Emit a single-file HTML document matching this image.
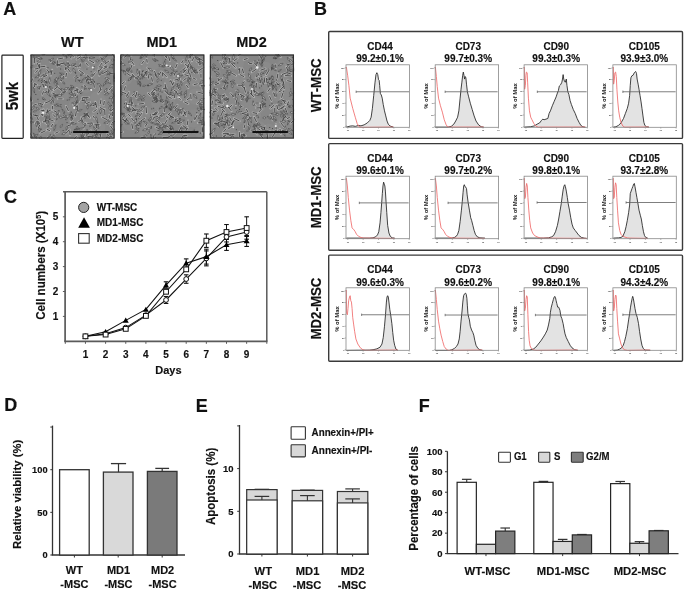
<!DOCTYPE html>
<html><head><meta charset="utf-8"><style>
html,body{margin:0;padding:0;background:#fff;overflow:hidden}
svg{display:block;will-change:transform}
text{font-family:"Liberation Sans",sans-serif;font-weight:bold}
</style></head><body>
<svg width="685" height="590" viewBox="0 0 685 590">
<rect width="685" height="590" fill="#fff"/>
<text transform="translate(3.20,14.70) scale(1,1.045)" font-size="18" text-anchor="start" fill="#111" stroke="#111" stroke-width="0.15" >A</text>
<rect x="1.90" y="55.10" width="21.30" height="83.20" fill="#fff" stroke="#222" stroke-width="1.2" rx="0.8"/>
<text transform="translate(17.80,96.20) rotate(-90) scale(1,1.045)" font-size="15" text-anchor="middle" fill="#111" stroke="#111" stroke-width="0.15" >5wk</text>
<text transform="translate(72.30,46.90) scale(1,1.045)" font-size="14.5" text-anchor="middle" fill="#111" stroke="#111" stroke-width="0.15" >WT</text>
<text transform="translate(161.80,46.90) scale(1,1.045)" font-size="14.5" text-anchor="middle" fill="#111" stroke="#111" stroke-width="0.15" >MD1</text>
<text transform="translate(251.50,46.90) scale(1,1.045)" font-size="14.5" text-anchor="middle" fill="#111" stroke="#111" stroke-width="0.15" >MD2</text>
<clipPath id="cp1"><rect x="30.3" y="54.3" width="84.5" height="84.5"/></clipPath><g clip-path="url(#cp1)">
<rect x="30.3" y="54.3" width="84.5" height="84.5" fill="#868686"/>
<g fill="#949494" opacity="0.3"><circle cx="43.8" cy="123.8" r="7.8"/><circle cx="53.3" cy="96.2" r="6.2"/><circle cx="84.5" cy="119.2" r="4.5"/><circle cx="35.5" cy="122.9" r="6.2"/><circle cx="93.1" cy="57.5" r="6.2"/><circle cx="89.9" cy="75.3" r="8.7"/><circle cx="104.1" cy="59.7" r="4.1"/><circle cx="75.8" cy="131.0" r="5.9"/><circle cx="50.3" cy="90.4" r="4.1"/><circle cx="50.7" cy="91.7" r="6.5"/><circle cx="51.6" cy="75.4" r="5.1"/><circle cx="69.4" cy="80.0" r="4.1"/><circle cx="99.0" cy="101.0" r="7.2"/><circle cx="47.9" cy="135.2" r="8.3"/><circle cx="42.8" cy="83.4" r="7.6"/><circle cx="89.1" cy="130.8" r="6.1"/><circle cx="98.5" cy="109.9" r="5.5"/><circle cx="79.4" cy="126.6" r="8.2"/><circle cx="73.0" cy="103.5" r="4.2"/><circle cx="52.4" cy="119.9" r="6.1"/><circle cx="46.9" cy="100.4" r="7.5"/><circle cx="86.2" cy="86.7" r="6.2"/><circle cx="73.2" cy="118.4" r="6.6"/><circle cx="64.2" cy="95.7" r="4.1"/><circle cx="36.7" cy="112.5" r="8.9"/><circle cx="79.9" cy="88.2" r="4.9"/><circle cx="72.7" cy="134.4" r="7.9"/><circle cx="75.7" cy="124.8" r="5.2"/><circle cx="73.6" cy="132.1" r="6.9"/><circle cx="69.3" cy="78.4" r="6.7"/><circle cx="108.4" cy="57.7" r="7.9"/><circle cx="97.7" cy="126.9" r="7.7"/><circle cx="96.8" cy="98.0" r="6.8"/><circle cx="66.7" cy="61.7" r="8.4"/><circle cx="78.0" cy="73.0" r="6.5"/><circle cx="71.4" cy="85.3" r="5.7"/><circle cx="75.6" cy="106.2" r="7.1"/><circle cx="69.3" cy="59.5" r="5.1"/><circle cx="47.2" cy="103.2" r="8.3"/><circle cx="96.0" cy="119.9" r="8.1"/></g>
<path d="M52.7 124.0l-1.7 2.8M69.6 54.2l1.6 4.2M50.9 135.3l-3.9 2.9M110.4 125.8l3.4 4.9M109.2 115.3l1.0 3.7M112.6 111.6l-0.1 4.3M47.3 109.5l0.8 3.6M50.1 81.9l-5.7 0.2M51.0 109.8l-5.5 3.1M104.7 109.1l0.3 6.4M88.9 59.9l5.3 3.1M96.3 104.0l-3.8 2.1M81.3 118.1l1.9 4.6M94.1 124.1l5.3 0.2M105.5 77.5l3.3 3.3M82.2 57.5l6.4 0.2M51.1 98.5l2.2 3.2M76.9 101.4l-1.1 3.7M51.2 58.8l-0.5 3.2M57.5 60.2l-0.3 6.2M107.3 65.8l-3.0 0.9M68.5 65.6l-3.3 4.2M34.0 83.6l3.1 1.4M99.6 85.5l1.6 4.9M30.9 96.3l-0.0 5.3M86.6 114.5l3.5 3.2M34.5 57.3l-0.2 6.1M52.1 69.9l-1.2 5.5M86.8 112.8l2.2 4.3M107.4 133.7l2.1 5.4M58.2 98.9l4.5 0.0M58.1 86.4l-4.2 3.4M83.8 85.3l2.4 1.8M66.9 117.1l-4.1 0.2M82.0 97.8l1.3 2.7M79.0 70.1l4.8 3.7M46.8 120.2l-3.8 1.7M69.5 129.5l-3.4 3.9M72.3 64.9l5.0 2.3M95.5 72.5l-3.5 4.3M39.2 86.2l0.1 3.3M36.7 104.1l-3.5 1.3M92.3 122.9l-5.1 0.6M102.0 62.9l-1.9 2.7M101.9 117.0l5.5 2.9M40.4 110.1l4.3 0.8M70.9 124.8l-3.0 0.9M100.2 56.6l2.2 2.6M84.5 134.5l-1.7 3.5M57.7 87.4l4.9 3.6M45.7 130.6l-5.4 2.6M36.4 121.5l3.0 0.8M66.6 73.0l-0.7 4.1M43.7 83.9l-0.2 3.3M81.1 56.5l-4.4 2.9M43.4 109.3l-1.2 6.1M52.5 106.1l-0.3 3.3M99.6 107.1l5.1 3.1M67.4 68.1l3.2 4.4M85.8 136.5l-3.4 3.7M67.9 62.1l2.0 4.0M47.1 75.2l-4.6 2.2M110.0 73.5l3.9 0.3M112.7 85.8l-3.8 4.5M82.4 136.0l-0.8 4.8M107.9 135.4l4.7 1.6M85.7 62.9l2.7 2.9M99.4 125.1l-4.2 3.3M73.3 104.8l4.0 2.0M87.4 75.5l3.4 2.7M56.4 64.3l3.5 1.7M76.4 111.1l-1.1 5.3M49.2 101.5l-4.2 1.6M32.6 78.6l-1.2 3.1M44.1 73.7l-4.0 3.6M34.9 114.9l3.9 1.3M85.5 122.7l-2.0 5.7M81.4 100.3l4.7 0.8M48.7 89.1l-0.6 3.8M74.6 92.7l1.0 3.2M53.6 110.5l5.5 2.9M107.2 71.2l-5.2 2.8M107.3 66.8l-3.9 2.0M95.4 101.8l1.5 6.1M39.7 64.0l-0.1 4.2M87.3 136.5l6.1 0.4M101.8 67.8l-2.1 2.6M114.1 108.3l-3.6 2.9M73.1 118.2l-2.4 2.8M79.0 101.9l-5.8 1.4M60.5 63.4l3.2 0.3M96.6 109.5l-3.2 2.4M114.0 123.8l-3.0 0.5M86.2 115.8l-4.7 1.3M48.8 119.2l4.9 1.9M77.4 105.3l0.4 6.4M30.2 133.4l2.2 3.3M64.9 66.4l1.4 4.1M90.3 81.9l3.5 1.7M52.3 93.0l3.1 1.6M47.1 120.2l-0.4 3.7M104.3 101.0l-0.7 4.3M80.4 63.6l-0.4 3.2M64.1 75.6l-3.1 5.6M39.8 124.7l-1.6 3.5M40.6 113.7l2.1 2.2M108.4 92.1l-3.1 1.8M116.5 120.4l-4.6 2.5M80.8 54.9l-4.0 1.3M70.8 122.8l3.6 0.0M46.9 129.3l3.0 1.5M38.6 68.3l-3.9 0.8M52.9 114.3l2.5 2.7M58.5 131.8l-3.1 1.5M39.5 103.1l3.6 1.5M35.0 123.1l4.8 0.5M90.3 78.9l-4.4 0.9M101.0 99.6l-0.7 4.7M89.9 102.0l-4.1 2.0M90.9 130.4l-3.0 4.2M66.0 106.0l2.5 5.2M92.9 115.8l1.7 2.5M81.8 120.1l-3.4 1.5M60.6 76.8l1.2 4.7M74.6 77.6l4.1 0.1M30.3 98.4l1.5 2.7M46.7 69.2l3.0 3.9M109.3 60.7l-4.9 3.6M98.7 66.7l4.0 0.5M82.2 90.1l-4.2 3.2M50.5 88.9l2.2 2.2M93.8 83.5l0.6 4.2M43.6 91.4l-1.4 3.2M76.7 136.2l-2.4 2.8M60.7 64.2l-3.1 0.5M63.4 58.0l-5.4 1.0M37.3 62.9l2.4 5.6M37.8 70.5l-2.5 2.3M112.3 53.9l2.6 3.9M35.0 83.6l-0.6 3.4M43.9 79.5l3.3 4.9M66.5 90.7l-5.5 3.2M108.3 119.2l-0.9 4.6M101.2 89.1l-3.0 4.4M37.0 116.7l1.5 3.2M101.4 131.8l-1.3 6.3M69.5 53.0l4.5 4.1M88.8 97.2l-6.5 0.3M76.8 88.0l0.6 4.9M83.1 132.3l-1.6 5.5M45.1 54.7l-3.4 0.2M32.8 114.7l4.2 1.3M47.1 91.5l-2.8 1.4M46.1 117.0l-1.0 5.7M69.6 130.6l0.5 4.7M78.6 89.4l-5.3 1.9M45.4 66.4l-5.1 0.5M98.4 69.6l0.9 6.0M37.1 57.8l3.8 2.0" stroke="#afafaf" stroke-width="2.1" stroke-linecap="round" fill="none"/>
<path d="M52.6 124.3l-1.4 2.3M69.7 54.6l1.2 3.4M50.5 135.6l-3.1 2.3M110.7 126.3l2.7 3.9M109.3 115.7l0.8 3.0M112.6 112.1l-0.1 3.5M47.4 109.8l0.6 2.9M49.6 81.9l-4.6 0.2M50.5 110.1l-4.4 2.4M104.7 109.8l0.3 5.2M89.5 60.2l4.3 2.5M96.0 104.2l-3.0 1.6M81.5 118.5l1.5 3.7M94.7 124.2l4.3 0.2M105.8 77.8l2.6 2.7M82.8 57.6l5.1 0.2M51.3 98.8l1.8 2.5M76.7 101.8l-0.9 2.9M51.1 59.1l-0.4 2.6M57.4 60.8l-0.2 5.0M107.0 65.9l-2.4 0.7M68.2 66.0l-2.7 3.3M34.3 83.7l2.5 1.2M99.7 86.0l1.3 3.9M30.9 96.9l-0.0 4.2M86.9 114.8l2.8 2.6M34.5 57.9l-0.2 4.9M52.0 70.5l-1.0 4.4M87.0 113.2l1.8 3.4M107.6 134.2l1.7 4.3M58.6 98.9l3.6 0.0M57.7 86.7l-3.4 2.7M84.1 85.5l1.9 1.4M66.5 117.2l-3.3 0.1M82.2 98.1l1.0 2.2M79.5 70.5l3.9 3.0M46.4 120.4l-3.0 1.4M69.1 129.9l-2.7 3.1M72.8 65.1l4.0 1.9M95.2 72.9l-2.8 3.4M39.3 86.5l0.1 2.7M36.4 104.3l-2.8 1.0M91.8 122.9l-4.1 0.5M101.9 63.2l-1.5 2.2M102.5 117.3l4.4 2.3M40.9 110.2l3.4 0.6M70.6 124.9l-2.4 0.7M100.4 56.9l1.8 2.1M84.3 134.8l-1.3 2.8M58.2 87.7l3.9 2.9M45.2 130.9l-4.3 2.1M36.7 121.6l2.4 0.7M66.5 73.4l-0.6 3.3M43.7 84.3l-0.2 2.7M80.6 56.8l-3.5 2.3M43.3 110.0l-1.0 4.8M52.5 106.4l-0.2 2.6M100.1 107.4l4.1 2.5M67.8 68.6l2.6 3.5M85.4 136.9l-2.7 2.9M68.1 62.5l1.6 3.2M46.7 75.4l-3.7 1.7M110.4 73.5l3.1 0.3M112.3 86.2l-3.1 3.6M82.3 136.5l-0.6 3.8M108.4 135.6l3.7 1.3M86.0 63.1l2.1 2.4M99.0 125.5l-3.4 2.7M73.7 105.0l3.2 1.6M87.7 75.8l2.7 2.1M56.8 64.4l2.8 1.3M76.3 111.6l-0.8 4.2M48.8 101.6l-3.3 1.3M32.5 78.9l-0.9 2.5M43.7 74.1l-3.2 2.8M35.3 115.0l3.1 1.0M85.3 123.3l-1.6 4.6M81.9 100.4l3.8 0.6M48.7 89.5l-0.4 3.1M74.7 93.0l0.8 2.6M54.1 110.8l4.4 2.3M106.7 71.4l-4.2 2.3M106.9 67.0l-3.1 1.6M95.5 102.4l1.2 4.9M39.7 64.4l-0.1 3.4M87.9 136.5l4.9 0.3M101.6 68.0l-1.7 2.1M113.7 108.6l-2.9 2.3M72.9 118.5l-1.9 2.2M78.4 102.0l-4.6 1.1M60.8 63.4l2.6 0.2M96.3 109.7l-2.6 1.9M113.7 123.9l-2.4 0.4M85.7 116.0l-3.8 1.1M49.3 119.4l3.9 1.5M77.4 105.9l0.3 5.1M30.4 133.7l1.8 2.6M65.0 66.8l1.1 3.3M90.7 82.0l2.8 1.3M52.7 93.2l2.5 1.2M47.1 120.6l-0.3 2.9M104.3 101.4l-0.6 3.4M80.4 63.9l-0.3 2.6M63.8 76.2l-2.5 4.5M39.7 125.1l-1.3 2.8M40.8 114.0l1.7 1.7M108.1 92.3l-2.5 1.4M116.1 120.6l-3.7 2.0M80.4 55.0l-3.2 1.0M71.1 122.8l2.8 0.0M47.2 129.4l2.4 1.2M38.2 68.4l-3.1 0.6M53.2 114.6l2.0 2.2M58.2 131.9l-2.5 1.2M39.8 103.3l2.9 1.2M35.5 123.1l3.9 0.4M89.9 79.0l-3.5 0.8M100.9 100.0l-0.6 3.8M89.5 102.2l-3.3 1.6M90.6 130.8l-2.4 3.4M66.3 106.5l2.0 4.1M93.1 116.0l1.4 2.0M81.5 120.2l-2.7 1.2M60.7 77.2l1.0 3.8M75.0 77.6l3.3 0.1M30.4 98.7l1.2 2.1M47.0 69.6l2.4 3.2M108.8 61.1l-3.9 2.9M99.1 66.8l3.2 0.4M81.8 90.4l-3.4 2.6M50.7 89.2l1.8 1.8M93.8 83.9l0.5 3.4M43.5 91.7l-1.1 2.6M76.4 136.4l-1.9 2.2M60.4 64.3l-2.5 0.4M62.8 58.1l-4.3 0.8M37.5 63.5l2.0 4.5M37.6 70.7l-2.0 1.9M112.5 54.2l2.0 3.1M35.0 83.9l-0.5 2.7M44.2 80.0l2.6 3.9M66.0 91.0l-4.4 2.6M108.2 119.6l-0.7 3.7M100.9 89.5l-2.4 3.5M37.1 117.1l1.2 2.6M101.2 132.4l-1.1 5.0M69.9 53.4l3.6 3.3M88.2 97.3l-5.2 0.2M76.9 88.5l0.5 3.9M83.0 132.8l-1.3 4.4M44.7 54.8l-2.7 0.2M33.2 114.8l3.3 1.0M46.8 91.7l-2.2 1.1M46.0 117.6l-0.8 4.6M69.7 131.0l0.4 3.8M78.1 89.6l-4.2 1.5M44.9 66.4l-4.1 0.4M98.5 70.2l0.7 4.8M37.5 58.0l3.1 1.6" stroke="#3e3e3e" stroke-width="0.9" stroke-linecap="round" fill="none"/>
<path d="M30.3 117.0L30.5 118.3L32.7 119.3L31.7 117.2ZM42.1 97.9L43.1 99.5L45.5 99.9L44.0 98.0ZM39.5 128.5L38.5 129.6L39.4 132.2L40.5 129.7ZM32.9 65.3L31.0 66.1L30.7 68.1L32.5 67.3ZM85.6 85.7L84.5 87.2L84.6 89.7L85.8 87.5ZM107.2 55.8L103.4 57.4L101.9 59.2L104.2 58.6ZM86.6 77.2L85.5 78.5L86.6 81.4L87.6 78.5ZM55.9 124.6L54.2 127.5L53.9 130.6L55.5 127.9ZM36.2 56.9L38.5 58.5L42.0 58.3L39.0 56.5ZM39.6 76.0L37.3 75.9L34.9 77.7L37.9 77.5ZM38.1 128.8L39.3 129.8L41.9 129.3L39.5 128.2ZM45.6 73.5L43.4 74.6L43.3 75.9L44.6 75.7ZM79.8 91.0L80.1 93.4L81.6 93.7L81.9 92.2ZM40.9 69.5L38.7 72.5L38.5 75.5L40.5 73.2ZM53.6 134.8L52.9 137.3L54.5 140.0L55.0 137.0ZM54.6 79.5L55.3 82.0L57.8 84.5L56.7 81.2ZM85.9 77.4L83.6 78.3L82.1 80.3L84.4 79.4ZM99.3 60.5L96.8 59.8L95.7 61.1L97.2 62.0ZM109.5 121.4L107.1 121.1L103.8 123.1L107.6 122.9ZM37.8 134.3L35.2 134.8L33.7 137.1L36.4 136.5ZM62.7 81.8L63.2 83.6L64.8 84.0L64.4 82.4ZM49.9 86.1L48.5 89.3L48.7 92.2L50.0 89.6ZM93.5 126.7L94.6 129.7L96.5 131.2L96.0 128.8ZM95.3 103.2L92.8 103.4L89.8 105.9L93.6 105.0ZM94.9 57.6L91.0 57.0L89.1 57.9L91.1 58.6ZM113.6 64.1L110.8 65.2L109.1 68.0L112.1 66.7ZM41.4 80.6L44.2 82.5L47.1 83.0L44.7 81.2ZM63.6 62.7L64.0 64.3L66.0 65.8L65.0 63.5ZM68.4 53.7L66.9 55.4L66.4 58.4L68.2 56.0ZM76.6 75.5L75.0 77.6L75.6 79.3L77.0 78.1ZM112.5 97.4L111.7 100.1L112.7 103.4L113.5 100.1ZM55.7 62.5L53.3 63.1L52.9 64.4L54.3 64.5ZM92.4 135.6L94.3 137.3L96.8 137.6L94.9 135.8ZM82.9 127.6L79.9 128.4L78.8 130.0L80.7 129.9ZM68.6 87.5L65.4 87.8L64.0 89.6L66.3 89.7ZM73.1 114.9L71.1 117.2L70.8 119.7L72.6 117.9ZM86.2 131.6L83.0 132.9L81.5 135.4L84.3 134.4ZM61.7 74.3L58.8 76.9L58.0 79.1L59.9 77.7ZM68.9 93.4L70.9 94.6L73.6 94.1L71.1 92.9ZM85.9 52.8L85.0 56.4L85.7 59.1L86.6 56.5ZM36.8 122.4L35.7 123.9L36.5 126.6L37.6 124.0ZM87.1 113.5L85.0 114.0L83.8 115.7L85.8 115.3ZM113.1 113.3L111.5 113.1L110.4 114.7L112.4 114.7ZM68.2 117.5L65.8 118.5L65.4 119.8L66.7 119.7ZM70.5 85.3L71.8 87.0L73.8 87.2L72.7 85.6ZM46.9 112.5L46.8 114.5L49.5 116.9L48.7 113.4ZM96.5 124.9L96.7 127.2L98.8 128.6L98.5 126.0ZM34.5 106.2L32.1 107.3L30.8 110.1L33.5 108.7ZM108.2 101.9L108.1 103.8L110.5 106.5L109.7 103.0ZM88.2 112.6L85.0 114.8L84.4 116.6L86.1 115.9ZM37.8 120.9L37.3 123.1L38.2 125.1L38.7 123.0ZM66.9 62.5L67.2 65.4L68.6 67.7L68.4 65.0ZM89.6 79.6L91.4 81.5L94.9 81.9L92.2 79.6ZM97.0 133.5L95.5 135.5L96.1 136.7L97.2 136.0ZM92.5 122.9L90.5 123.9L89.6 126.8L92.2 125.1ZM54.0 81.7L54.3 83.9L57.0 86.5L55.9 83.0ZM106.7 80.4L107.1 82.7L108.4 83.2L108.6 81.8ZM111.3 134.5L108.9 134.9L106.1 138.0L110.0 136.6ZM77.4 102.9L74.8 101.9L71.7 103.0L74.9 103.9ZM109.2 106.5L108.9 108.4L110.6 110.9L110.6 107.8ZM63.4 115.6L64.4 116.5L66.7 116.1L64.6 115.0ZM62.6 124.3L60.3 125.8L60.2 127.5L61.8 126.9ZM107.0 88.2L104.6 90.1L104.5 92.3L106.4 91.2ZM97.8 137.3L98.4 139.3L100.4 140.0L99.8 138.0ZM74.2 87.4L70.5 88.1L68.8 89.5L70.9 89.3ZM43.1 78.9L40.0 79.1L37.8 80.8L40.6 80.8ZM77.3 95.8L76.0 98.9L76.5 101.6L77.7 99.1ZM56.4 77.3L55.2 79.1L56.3 82.3L57.4 79.2ZM66.8 132.6L63.2 132.7L61.8 134.3L63.9 134.7ZM64.4 92.3L62.4 92.7L61.0 94.8L63.4 94.1ZM114.7 73.3L113.7 76.7L114.5 78.9L115.4 76.7ZM71.3 111.6L70.6 113.8L71.4 118.0L72.0 113.8ZM61.8 108.9L63.1 111.8L64.7 112.7L64.2 110.9ZM41.0 86.4L38.4 86.3L37.5 87.5L38.9 87.9ZM114.1 75.6L113.4 79.3L114.2 81.8L114.9 79.3ZM55.6 95.3L60.0 96.5L62.0 95.5L60.0 94.3ZM52.4 97.2L52.1 99.6L53.4 102.8L53.6 99.3ZM88.3 88.4L90.2 90.2L91.7 89.8L91.0 88.5ZM56.3 103.8L57.5 105.7L61.5 107.1L58.5 104.2ZM59.1 110.0L57.1 112.3L56.6 115.2L58.6 112.9ZM86.6 135.3L87.1 137.5L89.0 139.8L88.2 136.9ZM32.5 56.0L33.7 57.6L36.5 57.9L34.5 55.9ZM87.8 75.4L86.9 77.9L87.6 79.5L88.5 78.0ZM87.9 104.3L86.8 107.5L87.5 109.2L88.4 107.6ZM86.0 97.3L84.8 99.0L85.2 103.2L86.7 99.3ZM38.5 103.1L38.9 104.9L42.0 107.1L40.3 103.7ZM111.7 130.1L109.9 131.5L109.8 134.0L111.7 132.4ZM81.3 57.2L80.8 58.3L81.6 60.4L82.1 58.2ZM114.8 128.5L112.4 131.4L112.1 133.7L113.8 132.1ZM49.8 100.2L49.5 102.0L51.3 103.4L51.4 101.1ZM106.2 80.7L104.1 83.1L103.1 86.4L105.3 83.7ZM64.0 77.9L61.6 78.4L60.2 80.4L62.6 79.9ZM36.7 110.6L35.0 110.3L33.3 111.8L35.5 111.9ZM33.8 122.1L31.3 121.4L27.7 122.4L31.4 123.0ZM97.6 133.1L95.8 132.5L94.0 133.6L96.0 134.2ZM99.2 131.3L96.7 132.8L95.7 135.4L98.1 134.0ZM81.8 136.0L79.9 137.1L79.3 139.3L81.3 138.1ZM97.1 83.6L99.1 85.7L101.5 85.9L100.0 83.9ZM84.4 59.8L82.5 60.3L81.9 61.8L83.5 61.6ZM102.5 71.7L100.3 73.3L99.9 75.0L101.4 74.2ZM46.2 91.2L47.6 94.5L49.7 95.8L49.0 93.4ZM53.6 58.2L51.1 58.4L50.1 60.3L52.2 60.3ZM75.8 63.8L72.1 64.1L70.6 65.4L72.6 65.6ZM46.5 116.6L46.7 119.3L48.2 121.0L48.1 118.8ZM87.1 129.2L86.1 132.0L87.0 135.2L88.0 132.0ZM54.8 61.7L53.4 61.5L51.8 63.4L54.3 63.0ZM48.8 120.7L47.7 124.2L48.0 126.9L49.0 124.4ZM33.3 86.9L33.2 90.2L34.5 93.1L34.6 89.9ZM73.1 68.2L73.0 70.4L75.7 73.7L74.8 69.6ZM104.6 78.1L106.6 79.4L109.3 78.7L106.9 77.4ZM109.2 93.6L106.8 93.2L104.4 94.6L107.2 94.9ZM77.8 80.0L80.4 82.1L82.3 82.3L81.1 80.8ZM96.0 116.7L95.7 119.1L97.7 123.0L97.4 118.6ZM77.5 105.9L75.9 107.8L76.2 110.4L77.9 108.3ZM76.3 123.7L74.3 123.0L70.3 123.8L74.3 124.4ZM81.4 121.2L83.1 124.4L85.7 125.9L84.5 123.2ZM69.1 114.2L69.5 116.4L72.7 119.1L71.1 115.2ZM59.0 117.3L60.2 118.4L63.1 117.6L60.4 116.3ZM82.1 109.5L80.4 109.4L77.9 111.2L80.9 110.8ZM33.4 132.9L34.9 137.0L36.6 138.4L36.2 136.2ZM29.2 137.1L31.4 137.9L33.0 137.4L31.6 136.6ZM53.8 93.7L53.8 95.5L55.6 97.8L55.2 94.9ZM29.8 55.2L31.8 57.0L34.7 56.9L32.5 55.0ZM87.9 82.8L90.7 84.5L92.3 83.8L91.1 82.5ZM100.8 108.9L99.7 110.8L100.4 113.9L101.6 111.0ZM54.2 105.1L56.3 106.1L58.8 105.7L56.5 104.6ZM41.2 136.3L39.4 137.5L39.7 139.4L41.3 138.5ZM51.0 134.2L49.2 135.2L48.9 137.1L50.6 136.2ZM101.0 58.7L103.2 61.5L106.0 62.4L104.3 60.0ZM49.5 86.6L50.7 88.8L52.3 88.7L51.9 87.2ZM29.1 111.9L29.7 114.0L31.8 115.8L30.8 113.2ZM77.2 126.1L76.2 127.8L77.0 130.2L78.0 127.9ZM74.4 95.5L71.9 95.4L69.3 97.8L72.8 97.4ZM59.5 73.0L62.3 74.7L64.1 74.5L62.8 73.4ZM111.4 60.1L112.4 61.1L114.6 60.1L112.4 59.0ZM51.8 71.4L50.0 71.2L48.2 72.8L50.6 72.8ZM62.5 54.2L63.7 55.9L66.9 57.1L64.5 54.7ZM44.4 116.2L46.6 117.9L50.4 118.5L47.2 116.5ZM46.3 80.9L46.0 84.9L47.2 86.9L47.8 84.6ZM60.8 88.3L62.4 91.2L65.1 92.4L63.9 89.7ZM42.4 58.6L38.4 60.2L37.5 62.2L39.7 61.9ZM68.5 55.0L70.0 56.8L71.8 56.4L70.8 54.9ZM82.8 72.6L81.4 73.8L81.2 75.8L82.8 74.4ZM79.6 128.4L77.3 128.3L73.9 130.0L77.7 129.7ZM114.4 96.0L110.9 96.5L108.9 98.4L111.6 98.2ZM80.6 134.7L81.6 136.4L83.7 137.0L82.5 135.1ZM49.7 77.5L48.5 80.7L49.5 83.7L50.6 80.8ZM67.4 125.7L66.1 127.6L66.2 130.2L67.6 128.0ZM42.0 84.6L44.6 86.0L46.2 85.3L44.9 84.1ZM35.9 107.5L37.3 109.7L39.4 109.9L38.5 108.0ZM57.9 113.8L56.2 116.9L56.6 120.1L58.2 117.4ZM69.4 89.1L70.1 90.3L72.5 89.8L70.6 88.3ZM58.2 95.2L56.2 94.8L54.2 95.8L56.4 96.1ZM107.5 70.3L107.9 73.3L109.8 75.1L109.6 72.5ZM86.4 79.6L86.9 82.6L88.4 83.5L88.5 81.7ZM93.1 74.1L91.2 74.8L90.9 76.4L92.5 76.0ZM78.2 100.5L76.3 101.6L75.8 103.1L77.3 102.5ZM51.5 136.5L51.5 138.3L53.4 139.6L53.1 137.4ZM86.4 114.3L84.6 116.6L84.8 118.5L86.2 117.2ZM111.7 89.4L112.1 92.8L113.8 95.2L113.5 92.3ZM110.7 72.7L109.1 72.7L106.7 74.8L109.8 74.0Z" fill="#aaaaaa" stroke="#3e3e3e" stroke-width="0.5" stroke-linejoin="round"/>
<path d="M54.0 55.5h0.1M71.5 91.9h0.1M92.9 79.9h0.1M79.4 80.8h0.1M93.9 69.0h0.1M71.7 92.0h0.1M69.1 99.8h0.1M75.6 81.0h0.1M99.9 134.7h0.1M77.5 108.0h0.1M91.4 81.3h0.1M80.3 93.4h0.1M71.2 87.6h0.1M75.6 72.7h0.1M50.7 71.2h0.1M80.5 75.0h0.1M96.3 130.8h0.1M94.5 82.0h0.1M110.0 83.4h0.1M60.9 104.6h0.1M86.1 88.8h0.1M96.8 126.4h0.1M54.7 73.3h0.1M63.9 113.3h0.1M86.9 69.1h0.1M63.1 130.5h0.1M111.4 105.4h0.1M96.2 125.3h0.1M49.1 59.9h0.1M82.0 86.8h0.1M90.4 79.1h0.1M67.0 122.6h0.1M38.2 88.8h0.1M43.2 99.4h0.1M92.2 137.7h0.1M94.0 66.5h0.1M67.2 100.1h0.1M84.2 113.5h0.1M112.5 133.9h0.1M47.9 67.7h0.1M112.3 67.9h0.1M112.1 64.4h0.1M79.7 65.3h0.1M41.6 82.5h0.1M97.4 113.6h0.1M57.1 65.9h0.1M60.6 69.0h0.1M50.2 96.3h0.1M71.6 132.3h0.1M37.9 99.3h0.1M78.0 66.4h0.1M60.8 66.0h0.1M105.8 83.8h0.1M35.8 94.5h0.1M75.0 129.3h0.1M91.1 71.7h0.1M107.1 54.7h0.1M89.2 57.9h0.1M99.6 70.3h0.1M97.7 123.0h0.1" stroke="#3e3e3e" stroke-width="1.0" stroke-linecap="round"/>
<circle cx="92.8" cy="67.5" r="1.0" fill="#ececec"/>
<circle cx="43.1" cy="112.8" r="1.3" fill="#ececec"/>
<circle cx="74.2" cy="107.9" r="1.1" fill="#ececec"/>
<circle cx="45.9" cy="87.0" r="1.0" fill="#ececec"/>
<circle cx="91.2" cy="89.9" r="1.0" fill="#ececec"/>
<rect x="30.95" y="54.949999999999996" width="83.2" height="83.2" fill="none" stroke="#2c2c2c" stroke-width="1.3"/>
</g>
<line x1="73.10" y1="132.10" x2="108.60" y2="132.10" stroke="#111" stroke-width="2" />
<clipPath id="cp2"><rect x="120.1" y="54.3" width="84.5" height="84.5"/></clipPath><g clip-path="url(#cp2)">
<rect x="120.1" y="54.3" width="84.5" height="84.5" fill="#868686"/>
<g fill="#949494" opacity="0.3"><circle cx="198.1" cy="131.7" r="4.3"/><circle cx="129.8" cy="122.9" r="7.7"/><circle cx="175.7" cy="81.5" r="7.0"/><circle cx="170.7" cy="102.9" r="4.8"/><circle cx="156.9" cy="88.2" r="7.6"/><circle cx="201.2" cy="131.8" r="6.7"/><circle cx="158.0" cy="78.4" r="4.2"/><circle cx="125.3" cy="93.8" r="5.6"/><circle cx="152.9" cy="127.3" r="6.6"/><circle cx="167.1" cy="75.8" r="4.1"/><circle cx="148.6" cy="68.0" r="6.6"/><circle cx="201.5" cy="110.2" r="4.9"/><circle cx="193.2" cy="119.8" r="7.7"/><circle cx="194.3" cy="117.2" r="7.9"/><circle cx="150.9" cy="134.3" r="8.8"/><circle cx="135.8" cy="116.5" r="7.6"/><circle cx="159.3" cy="98.9" r="6.5"/><circle cx="195.7" cy="96.6" r="8.2"/><circle cx="150.9" cy="126.6" r="8.5"/><circle cx="159.3" cy="101.9" r="8.6"/><circle cx="179.9" cy="95.5" r="5.1"/><circle cx="148.6" cy="112.2" r="4.8"/><circle cx="194.4" cy="78.3" r="8.6"/><circle cx="147.4" cy="132.5" r="7.5"/><circle cx="162.7" cy="97.9" r="7.3"/><circle cx="169.3" cy="81.8" r="5.0"/><circle cx="163.3" cy="130.6" r="7.1"/><circle cx="129.0" cy="121.7" r="7.6"/><circle cx="194.4" cy="72.3" r="7.7"/><circle cx="127.7" cy="108.6" r="5.4"/><circle cx="140.9" cy="126.0" r="4.5"/><circle cx="164.1" cy="124.3" r="5.2"/><circle cx="139.6" cy="126.4" r="6.1"/><circle cx="179.4" cy="59.8" r="5.8"/><circle cx="136.6" cy="110.1" r="4.4"/><circle cx="198.0" cy="59.3" r="7.6"/><circle cx="124.8" cy="77.4" r="8.1"/><circle cx="135.4" cy="71.7" r="7.5"/><circle cx="153.4" cy="60.7" r="9.0"/><circle cx="135.0" cy="60.1" r="5.7"/></g>
<path d="M170.1 116.3l3.9 1.5M161.0 71.6l-2.0 3.6M155.6 127.2l4.6 2.0M165.7 65.9l3.1 0.6M154.3 98.7l3.1 0.0M128.3 114.3l2.4 2.3M139.8 70.4l-0.3 4.6M168.6 56.3l1.2 4.7M200.5 85.6l5.4 0.3M146.7 124.0l-1.6 2.6M152.8 93.8l4.0 3.1M154.8 91.9l-3.1 3.1M177.3 118.2l-3.1 3.6M157.1 120.0l3.2 3.6M203.7 121.6l-5.8 1.3M187.8 59.5l2.8 5.8M146.5 71.6l-2.8 4.6M184.2 101.8l4.1 2.0M168.4 127.5l4.0 2.6M157.0 113.8l-5.4 1.1M181.6 126.3l-2.7 5.2M186.7 69.3l-3.5 3.6M188.8 63.8l-1.6 4.2M165.4 91.9l5.1 3.8M148.4 75.3l-0.0 3.1M185.8 66.9l-4.1 4.1M178.7 120.1l-3.2 1.4M165.0 83.6l1.1 5.9M175.3 92.1l-0.7 6.2M145.9 72.1l0.5 3.8M202.9 62.6l-3.6 2.3M146.8 59.1l0.5 3.6M126.3 72.9l4.4 3.0M197.3 69.8l-3.4 0.4M196.7 61.5l3.4 1.6M154.7 73.7l1.8 3.4M170.6 80.1l2.2 5.2M131.6 123.4l1.3 5.6M168.6 137.4l-5.9 0.2M147.3 67.7l4.8 2.4M199.2 108.7l6.1 1.0M158.6 100.5l4.3 2.0M160.1 64.8l3.2 1.2M151.5 77.2l1.0 4.4M188.0 120.6l-0.9 4.6M202.5 128.3l0.5 4.0M187.1 111.5l-3.6 2.8M148.0 93.0l2.6 2.6M136.8 92.0l-0.9 4.0M147.9 70.8l-3.5 2.0M192.5 69.3l2.3 3.4M132.0 65.0l-1.4 4.1M178.1 97.3l2.8 2.5M177.2 64.0l-1.6 4.1M201.9 85.2l0.3 4.3M170.5 112.5l-2.5 2.8M146.1 107.0l0.5 6.3M172.5 134.6l-4.6 2.8M127.6 104.3l3.7 0.8M166.4 87.9l-3.3 0.9M197.4 114.6l-2.9 5.6M183.6 110.5l2.4 5.3M133.5 108.5l-2.0 4.0M187.7 127.7l-2.7 4.6M120.6 91.6l5.9 2.2M168.7 114.7l5.0 3.1M126.0 102.0l1.9 5.9M167.8 96.4l3.9 2.1M184.8 63.9l4.3 3.3M125.7 119.1l3.0 2.1M203.6 67.4l-5.0 3.5M199.1 58.6l4.2 2.1M190.0 97.6l-3.2 2.4M124.8 81.7l-2.8 2.2M183.7 135.2l-2.5 4.0M200.1 101.4l-2.9 2.4M177.3 83.5l1.4 5.5M177.5 104.9l-3.0 3.9M162.3 72.2l0.6 4.4M131.5 61.3l2.6 3.6M157.4 111.6l-3.2 1.8M186.3 84.9l2.0 3.0M163.4 123.3l-4.8 4.3M122.9 131.9l-4.3 1.6M190.7 94.1l0.5 5.2M140.7 120.8l-4.3 4.8M202.3 126.4l-0.1 6.1M122.7 119.3l3.4 2.4M200.8 107.1l0.4 3.6M154.4 70.9l1.9 5.0M164.8 55.6l2.5 2.9M184.4 74.6l4.5 1.5M187.2 135.5l-3.1 0.0M128.9 92.2l-2.4 4.5M175.4 72.4l-1.3 3.2M169.8 94.0l3.3 1.7M173.5 89.7l3.4 2.5M131.5 102.0l0.4 4.1M135.8 125.0l3.4 0.3M145.1 118.0l-4.7 3.2M183.1 60.3l-1.7 2.6M194.2 56.9l-2.3 4.3M154.8 88.8l-3.6 4.0M134.8 94.9l1.5 2.9M164.8 125.6l3.8 1.3M140.4 75.1l-5.3 3.4M165.0 106.3l-0.6 5.8M154.4 134.3l-1.5 5.0M143.9 103.4l-5.4 0.8M188.9 70.5l-1.1 3.5M162.9 72.9l4.0 4.3M180.7 108.9l0.6 5.7M131.3 106.8l4.9 4.0M197.7 83.7l-4.1 1.0M180.1 79.0l-5.8 1.1M154.3 117.6l-1.8 2.8M142.7 109.3l-3.2 2.2M144.3 76.1l-2.8 1.2M121.5 61.3l0.9 3.3M146.0 137.1l-5.3 0.6M182.0 122.5l-4.3 1.2M199.7 58.3l-0.0 4.9M182.5 125.1l3.0 2.7M167.4 119.6l-3.0 4.9M176.1 91.3l1.6 2.9M143.8 60.9l-2.1 3.0M157.9 112.4l-4.4 2.8M130.6 99.0l2.3 5.1M190.7 54.5l-0.6 4.1M189.5 72.7l1.3 4.3M158.0 116.3l-4.7 1.3M195.4 71.3l2.5 1.9M131.6 118.0l2.1 2.8M136.3 113.1l2.9 1.1M125.4 114.4l-3.5 3.3M134.8 93.5l-3.2 2.6M127.6 55.0l-3.7 2.5M121.6 118.4l5.0 3.8M174.0 82.1l-1.6 3.1M131.1 56.5l-1.3 6.3M193.0 77.8l2.7 1.5M142.1 112.9l-3.3 4.7M197.3 92.1l6.0 1.6M131.7 73.7l3.6 3.9M200.9 73.7l0.1 4.1M127.4 117.3l-2.8 5.2M137.9 109.6l-4.8 1.0M159.6 115.2l2.8 1.5M170.9 127.3l-1.0 4.7M125.5 86.2l-1.6 4.5M186.6 78.1l-3.3 2.5M176.0 132.6l-4.5 4.5M154.6 52.4l-0.5 5.3M166.1 115.7l1.8 2.4" stroke="#afafaf" stroke-width="2.1" stroke-linecap="round" fill="none"/>
<path d="M170.5 116.5l3.1 1.2M160.8 71.9l-1.6 2.9M156.1 127.4l3.7 1.6M166.0 66.0l2.5 0.4M154.6 98.7l2.5 0.0M128.5 114.5l1.9 1.8M139.8 70.8l-0.2 3.7M168.7 56.8l1.0 3.7M201.1 85.6l4.3 0.3M146.6 124.3l-1.3 2.1M153.2 94.1l3.2 2.5M154.5 92.2l-2.5 2.5M177.0 118.5l-2.5 2.9M157.4 120.3l2.6 2.9M203.1 121.8l-4.6 1.0M188.1 60.1l2.3 4.7M146.2 72.0l-2.2 3.7M184.6 102.0l3.3 1.6M168.8 127.8l3.2 2.1M156.5 113.9l-4.3 0.9M181.3 126.8l-2.1 4.2M186.3 69.7l-2.8 2.9M188.7 64.3l-1.2 3.4M165.9 92.2l4.1 3.1M148.4 75.6l-0.0 2.5M185.4 67.4l-3.3 3.2M178.4 120.3l-2.5 1.2M165.1 84.2l0.9 4.8M175.2 92.7l-0.6 4.9M145.9 72.5l0.4 3.0M202.5 62.8l-2.9 1.9M146.8 59.4l0.4 2.8M126.7 73.2l3.6 2.4M197.0 69.9l-2.7 0.3M197.0 61.7l2.7 1.3M154.9 74.1l1.5 2.7M170.8 80.6l1.8 4.2M131.8 124.0l1.0 4.5M168.0 137.4l-4.8 0.2M147.8 68.0l3.8 1.9M199.8 108.8l4.9 0.8M159.1 100.7l3.5 1.6M160.4 65.0l2.5 1.0M151.6 77.7l0.8 3.5M187.9 121.0l-0.7 3.7M202.6 128.7l0.4 3.2M186.8 111.7l-2.9 2.3M148.3 93.2l2.0 2.1M136.7 92.4l-0.7 3.2M147.5 71.0l-2.8 1.6M192.7 69.7l1.8 2.7M131.8 65.4l-1.1 3.3M178.3 97.6l2.2 2.0M177.0 64.4l-1.3 3.2M202.0 85.7l0.3 3.5M170.2 112.7l-2.0 2.2M146.1 107.6l0.4 5.0M172.0 134.9l-3.7 2.2M128.0 104.4l3.0 0.6M166.0 88.0l-2.7 0.7M197.1 115.2l-2.4 4.5M183.8 111.0l1.9 4.2M133.3 108.9l-1.6 3.2M187.4 128.2l-2.2 3.7M121.1 91.8l4.7 1.8M169.2 115.0l4.0 2.5M126.1 102.6l1.5 4.7M168.2 96.6l3.1 1.7M185.2 64.2l3.5 2.7M126.0 119.3l2.4 1.7M203.1 67.8l-4.0 2.8M199.6 58.8l3.4 1.7M189.7 97.9l-2.6 1.9M124.5 81.9l-2.2 1.8M183.4 135.6l-2.0 3.2M199.8 101.6l-2.3 1.9M177.4 84.0l1.1 4.4M177.2 105.2l-2.4 3.1M162.3 72.6l0.5 3.5M131.8 61.7l2.1 2.9M157.0 111.8l-2.5 1.5M186.5 85.2l1.6 2.4M162.9 123.7l-3.8 3.5M122.5 132.0l-3.5 1.3M190.7 94.6l0.4 4.2M140.3 121.2l-3.5 3.8M202.3 127.0l-0.1 4.9M123.1 119.5l2.7 1.9M200.8 107.4l0.3 2.9M154.6 71.4l1.5 4.0M165.1 55.9l2.0 2.3M184.9 74.7l3.6 1.2M186.9 135.5l-2.5 0.0M128.6 92.6l-1.9 3.6M175.3 72.7l-1.1 2.6M170.1 94.2l2.6 1.3M173.8 89.9l2.7 2.0M131.6 102.4l0.3 3.3M136.2 125.1l2.7 0.3M144.6 118.3l-3.7 2.6M183.0 60.6l-1.3 2.1M194.0 57.3l-1.9 3.4M154.5 89.3l-2.8 3.2M134.9 95.2l1.2 2.3M165.2 125.7l3.0 1.0M139.8 75.5l-4.2 2.7M165.0 106.9l-0.4 4.7M154.2 134.8l-1.2 4.0M143.4 103.5l-4.3 0.6M188.8 70.8l-0.9 2.8M163.3 73.4l3.2 3.4M180.8 109.4l0.5 4.6M131.8 107.2l3.9 3.2M197.3 83.8l-3.2 0.8M179.5 79.1l-4.6 0.9M154.1 117.9l-1.4 2.2M142.3 109.6l-2.6 1.8M144.1 76.2l-2.2 1.0M121.6 61.6l0.7 2.6M145.4 137.2l-4.3 0.5M181.5 122.6l-3.5 1.0M199.7 58.7l-0.0 3.9M182.8 125.4l2.4 2.1M167.1 120.1l-2.4 3.9M176.2 91.6l1.2 2.3M143.6 61.2l-1.7 2.4M157.4 112.7l-3.5 2.3M130.8 99.5l1.8 4.0M190.7 54.9l-0.5 3.3M189.6 73.1l1.0 3.5M157.6 116.4l-3.7 1.0M195.7 71.5l2.0 1.6M131.8 118.3l1.6 2.3M136.6 113.3l2.3 0.9M125.1 114.7l-2.8 2.7M134.5 93.7l-2.6 2.1M127.2 55.3l-3.0 2.0M122.1 118.8l4.0 3.0M173.8 82.4l-1.3 2.5M131.0 57.1l-1.0 5.1M193.2 78.0l2.2 1.2M141.7 113.4l-2.6 3.7M197.9 92.2l4.8 1.2M132.0 74.1l2.9 3.1M200.9 74.1l0.1 3.3M127.1 117.9l-2.2 4.2M137.4 109.7l-3.9 0.8M159.9 115.4l2.3 1.2M170.8 127.8l-0.8 3.8M125.4 86.7l-1.3 3.6M186.3 78.3l-2.6 2.0M175.5 133.0l-3.6 3.6M154.5 52.9l-0.4 4.2M166.3 115.9l1.5 1.9" stroke="#3e3e3e" stroke-width="0.9" stroke-linecap="round" fill="none"/>
<path d="M160.1 116.8L156.9 118.7L155.9 121.3L158.4 120.1ZM165.5 66.2L164.2 65.5L161.7 66.7L164.5 67.2ZM128.3 104.7L127.1 107.2L128.1 111.2L129.3 107.3ZM158.4 73.0L156.9 74.7L156.9 78.0L158.7 75.3ZM177.4 71.3L174.1 71.5L171.3 73.2L174.5 73.1ZM127.0 119.9L127.0 122.1L129.0 124.3L128.7 121.4ZM145.7 85.5L143.9 85.1L142.5 86.1L144.2 86.6ZM132.7 59.9L130.8 59.8L128.1 62.3L131.7 61.5ZM138.1 94.0L139.0 96.4L141.2 97.2L140.6 95.0ZM152.4 59.1L154.2 60.6L158.3 60.8L154.7 58.8ZM164.8 60.6L163.7 63.7L164.0 66.9L165.1 63.9ZM182.7 75.3L179.4 75.5L178.4 76.8L180.0 77.1ZM203.2 80.3L201.1 81.1L199.5 84.1L202.5 82.5ZM174.2 85.6L172.1 87.9L171.0 91.1L173.2 88.6ZM200.8 113.0L198.9 116.4L198.8 118.9L200.2 116.9ZM122.7 94.0L119.6 94.7L118.0 96.6L120.5 96.3ZM151.4 92.3L151.4 94.1L153.3 94.8L153.1 92.8ZM191.0 77.4L188.7 80.3L188.5 82.6L190.2 81.1ZM127.1 105.5L127.1 108.4L128.8 110.1L129.0 107.7ZM147.0 129.3L144.8 128.8L142.6 130.4L145.3 130.9ZM148.0 119.5L150.2 122.6L152.4 123.4L151.3 121.4ZM151.3 128.0L148.3 127.6L146.7 129.1L148.8 129.7ZM186.3 127.2L183.1 127.0L180.8 128.3L183.4 128.6ZM176.2 83.6L176.0 85.6L177.4 87.1L177.5 85.1ZM152.7 83.9L149.4 83.9L146.8 85.4L149.9 85.5ZM139.4 122.9L139.3 124.7L140.8 126.6L140.7 124.2ZM162.9 123.3L164.1 127.1L165.7 128.2L165.6 126.3ZM154.0 92.4L152.3 94.1L152.5 96.2L154.1 94.8ZM153.2 98.4L155.4 99.4L156.6 98.9L155.6 98.0ZM175.6 131.1L176.8 132.1L179.5 132.1L177.1 130.8ZM139.0 130.6L137.0 130.7L134.9 133.2L138.1 132.4ZM123.6 70.1L123.8 73.3L125.6 74.9L125.7 72.5ZM161.5 131.0L162.2 132.4L164.4 132.6L163.1 130.8ZM182.7 135.9L183.4 137.7L186.8 139.5L184.6 136.3ZM164.7 69.9L166.6 72.4L168.8 72.8L167.7 70.9ZM176.7 94.0L179.5 95.5L182.3 94.9L179.8 93.5ZM120.9 70.0L124.0 71.9L125.8 71.7L124.5 70.5ZM187.8 111.2L189.0 113.9L191.7 115.9L190.2 112.8ZM181.8 91.3L180.0 92.9L180.2 94.3L181.4 93.6ZM138.5 80.3L137.2 81.8L138.0 84.6L139.3 82.1ZM169.3 125.3L170.8 128.0L173.2 128.6L172.2 126.4ZM180.9 81.1L180.7 83.5L181.7 85.5L182.0 83.3ZM170.8 129.4L169.1 130.5L168.8 133.7L171.0 131.4ZM147.2 135.4L145.0 134.8L143.6 136.3L145.5 136.9ZM140.4 98.4L139.0 98.2L137.6 100.2L140.0 99.8ZM179.9 86.6L178.9 88.6L179.8 89.9L180.7 88.6ZM158.7 64.3L160.4 66.2L162.4 66.1L161.2 64.5ZM200.1 61.3L199.0 62.3L199.5 64.6L200.7 62.6ZM149.4 130.7L147.9 132.6L148.3 133.9L149.4 133.1ZM176.1 121.5L173.9 121.6L171.6 123.1L174.3 122.8ZM192.6 52.2L190.6 53.5L189.2 57.8L192.3 54.6ZM165.3 103.6L164.9 105.2L166.2 108.0L166.3 104.9ZM194.5 55.7L196.6 59.0L198.6 59.7L197.8 57.8ZM120.6 86.6L120.0 88.6L120.6 90.5L121.3 88.6ZM161.4 85.6L159.0 84.9L156.5 86.0L159.1 86.6ZM201.3 120.2L199.9 121.3L199.7 123.4L201.2 122.0ZM124.7 113.7L122.1 113.1L119.4 114.1L122.2 114.6ZM158.1 88.6L158.9 91.1L160.6 91.5L160.5 89.7ZM170.9 54.2L172.0 57.3L174.3 59.1L173.4 56.3ZM179.4 73.5L177.3 74.9L176.8 76.9L178.6 75.9ZM166.7 96.3L166.3 99.6L167.5 102.6L167.9 99.4ZM170.2 103.9L169.9 107.5L171.1 110.2L171.5 107.2ZM202.7 119.6L202.9 123.2L204.5 125.5L204.5 122.7ZM125.7 55.6L127.7 56.5L130.4 56.1L127.8 55.2ZM163.5 129.9L161.1 129.2L157.5 130.4L161.3 131.0ZM170.1 65.9L171.0 68.8L173.5 70.7L172.6 67.7ZM144.1 95.0L142.8 96.1L143.3 98.7L144.9 96.6ZM141.8 121.4L139.6 122.8L139.3 124.3L140.8 123.8ZM148.5 67.9L150.3 70.5L152.9 71.1L151.5 68.8ZM192.7 54.4L191.1 54.1L188.9 55.9L191.7 55.7ZM194.9 70.2L194.4 71.7L195.8 73.6L196.1 71.3ZM174.5 106.4L171.2 107.9L170.2 109.5L172.1 109.1ZM119.8 63.4L123.2 65.7L125.2 65.3L123.9 63.7ZM199.1 103.4L200.0 106.6L202.0 109.0L201.3 106.0ZM123.0 53.3L121.3 54.6L120.7 58.3L123.1 55.5ZM127.2 106.9L125.6 106.1L123.8 107.3L125.8 108.2ZM190.1 65.4L190.4 67.3L193.0 69.5L191.8 66.3ZM127.3 67.9L126.7 70.0L128.2 72.3L128.7 69.6ZM197.5 107.9L197.2 109.3L199.2 111.1L198.8 108.5ZM144.3 99.5L142.9 98.9L141.2 100.4L143.5 100.8ZM138.9 81.1L139.0 83.8L140.5 85.7L140.5 83.3ZM145.8 72.1L147.5 74.0L151.5 74.8L148.3 72.2ZM140.8 74.4L142.0 76.5L144.4 77.6L143.0 75.3ZM188.7 76.8L187.6 78.2L187.6 81.5L189.1 78.6ZM123.9 122.1L125.1 123.7L128.2 124.1L126.0 122.0ZM187.2 54.9L185.6 58.9L186.0 60.9L187.1 59.2ZM184.5 120.2L181.2 120.2L178.6 122.2L181.8 122.2ZM140.6 76.7L141.4 78.7L142.7 78.9L142.6 77.6ZM150.7 134.0L150.4 136.3L151.6 139.3L151.7 136.1ZM179.6 77.8L177.8 79.4L177.9 81.0L179.3 80.2ZM199.7 103.3L202.2 104.4L204.0 103.6L202.4 102.5ZM162.8 133.0L161.1 132.8L157.9 134.5L161.5 134.1ZM140.0 113.9L138.1 114.1L134.9 116.5L138.7 115.3ZM142.5 52.8L140.9 56.0L140.8 58.8L142.2 56.4ZM176.3 108.0L175.9 110.5L177.3 111.7L177.9 109.9ZM139.3 109.2L137.5 111.0L137.4 112.3L138.6 111.7ZM167.6 106.7L168.3 108.7L171.1 110.9L169.4 107.7ZM135.3 77.5L137.4 79.1L141.0 79.0L137.9 77.2ZM203.8 107.0L201.5 106.3L199.3 107.0L201.5 107.7ZM195.4 57.4L197.3 59.3L199.2 58.8L198.1 57.3ZM168.9 101.5L167.1 103.3L166.5 107.4L168.9 104.1ZM198.4 131.1L196.5 131.2L195.6 132.8L197.4 132.7ZM131.2 109.3L128.2 108.6L126.6 109.6L128.3 110.4ZM201.2 122.0L201.5 124.1L202.9 124.8L202.9 123.3ZM191.4 67.2L193.3 69.9L195.0 69.8L194.5 68.2ZM145.2 106.1L142.3 106.5L141.2 107.8L142.9 107.9ZM158.5 93.6L156.8 94.9L156.5 97.2L158.3 95.7ZM183.3 108.2L180.5 110.4L179.6 113.0L181.9 111.4ZM132.3 76.5L128.8 78.6L128.0 80.8L130.2 80.0ZM191.6 65.7L189.0 68.2L188.2 70.7L190.3 69.1ZM171.9 57.6L174.3 60.3L176.6 61.1L175.2 59.1ZM160.8 95.4L160.2 98.3L160.9 101.7L161.5 98.3ZM157.5 123.5L158.8 125.1L160.6 125.4L159.5 123.9ZM129.2 67.6L130.0 70.8L132.0 72.6L131.6 69.9ZM186.3 92.8L184.7 94.7L184.5 97.9L186.3 95.3ZM122.4 124.0L119.9 125.3L118.4 128.0L121.1 126.5ZM170.1 125.8L170.6 127.6L173.7 130.2L171.8 126.7ZM163.0 99.5L160.8 100.2L160.0 102.1L162.0 101.6ZM166.3 88.8L166.0 90.5L167.8 92.9L167.6 89.9ZM156.2 123.4L157.8 126.2L160.4 128.0L158.8 125.3ZM166.9 107.0L164.4 107.2L163.4 108.3L164.9 108.4ZM144.9 54.7L141.9 55.5L139.6 58.3L143.0 57.2ZM136.3 117.9L134.6 120.6L135.0 123.4L136.6 121.0ZM154.7 58.5L154.0 60.3L155.3 62.0L156.0 60.0ZM193.5 94.4L194.3 97.0L197.0 98.5L195.9 95.6ZM141.4 73.9L141.3 75.4L143.6 77.0L142.8 74.3ZM130.1 69.7L128.5 69.1L126.0 70.2L128.6 70.6ZM162.2 106.4L160.7 106.6L159.0 109.1L161.8 107.9ZM153.2 97.4L154.8 99.5L158.3 100.7L155.8 98.0ZM132.5 75.2L130.5 77.9L130.2 80.0L131.7 78.4ZM179.0 108.9L177.9 111.7L178.6 114.9L179.7 111.8ZM171.3 72.8L169.9 74.5L170.6 75.7L171.8 75.0ZM159.9 127.1L160.5 128.6L162.3 128.9L161.5 127.3ZM172.6 117.3L170.0 117.4L168.8 119.0L170.8 119.1ZM170.7 92.7L169.4 92.8L168.2 94.5L170.2 94.0ZM177.3 83.2L177.8 85.2L179.6 86.0L179.2 84.1ZM146.3 52.0L145.2 54.3L146.3 57.2L147.4 54.3ZM199.3 62.0L200.3 63.5L203.7 64.2L201.1 61.9ZM153.6 93.3L153.9 96.1L155.6 98.6L155.2 95.6ZM180.5 118.1L177.8 121.3L177.4 123.7L179.3 122.1ZM172.7 102.1L170.8 105.2L171.0 107.5L172.5 105.7ZM152.1 122.3L153.5 123.9L155.8 124.6L154.2 122.8ZM121.6 113.0L123.1 115.5L125.2 116.4L124.2 114.4ZM156.3 96.8L156.7 100.3L157.9 102.0L157.9 99.9ZM140.1 81.4L139.6 83.8L140.4 86.5L141.0 83.7ZM170.5 92.1L172.0 94.8L174.7 96.1L173.3 93.5ZM158.7 78.5L157.1 79.8L157.2 82.3L159.0 80.5ZM127.1 94.4L126.5 96.6L127.6 97.9L128.3 96.4ZM193.5 71.3L195.8 72.8L198.1 72.4L196.3 71.0ZM150.8 116.8L149.9 118.5L150.6 120.3L151.5 118.6ZM156.9 87.6L155.0 87.3L153.7 88.9L155.8 89.1ZM166.5 125.0L164.6 125.5L162.1 127.8L165.3 126.6ZM121.0 90.8L120.1 92.7L121.1 93.9L121.9 92.6ZM203.6 117.0L200.6 118.6L199.9 120.8L202.0 120.0ZM143.2 121.2L145.7 123.3L147.5 123.4L146.3 122.0ZM164.4 113.8L162.5 113.7L160.5 115.5L163.1 115.2ZM186.5 90.6L184.6 92.1L183.8 94.6L185.9 93.0ZM165.1 100.1L165.7 102.5L167.4 103.3L167.1 101.5ZM154.5 99.4L154.7 101.2L156.7 102.2L156.2 100.0ZM151.9 101.1L154.2 102.5L156.9 102.1L154.5 100.7ZM131.0 97.2L129.8 98.8L129.6 102.5L131.3 99.2ZM204.4 98.6L201.2 98.7L199.6 100.3L201.9 100.5ZM137.2 68.9L136.8 72.3L137.9 73.8L138.5 72.1ZM185.0 70.2L182.1 70.1L180.6 71.6L182.7 71.9ZM139.2 128.7L136.9 128.1L135.7 128.8L137.0 129.5ZM194.8 129.9L193.2 130.4L191.5 132.8L194.1 131.4Z" fill="#aaaaaa" stroke="#3e3e3e" stroke-width="0.5" stroke-linejoin="round"/>
<path d="M148.0 85.7h0.1M196.7 112.6h0.1M194.6 118.1h0.1M179.3 118.8h0.1M138.8 118.4h0.1M169.2 108.7h0.1M162.0 92.1h0.1M191.4 121.9h0.1M136.4 126.9h0.1M165.7 59.6h0.1M186.8 128.7h0.1M156.8 90.6h0.1M143.0 70.7h0.1M165.3 91.3h0.1M175.3 109.9h0.1M136.5 119.4h0.1M158.2 88.7h0.1M135.7 105.9h0.1M177.5 120.4h0.1M189.5 83.8h0.1M166.3 106.2h0.1M153.0 55.1h0.1M181.7 130.3h0.1M160.1 132.2h0.1M124.5 103.7h0.1M153.6 108.3h0.1M150.5 115.0h0.1M137.2 78.5h0.1M154.9 89.6h0.1M155.3 134.0h0.1M163.5 101.7h0.1M130.9 99.2h0.1M184.4 113.7h0.1M201.0 104.7h0.1M151.5 127.9h0.1M202.9 136.4h0.1M129.8 111.4h0.1M133.5 76.8h0.1M185.7 128.1h0.1M170.1 81.3h0.1M161.2 80.3h0.1M142.5 71.6h0.1M200.3 133.1h0.1M135.7 125.9h0.1M183.4 115.5h0.1M141.6 99.2h0.1M189.0 113.5h0.1M199.0 59.0h0.1M148.1 85.6h0.1M155.2 137.6h0.1M201.9 124.6h0.1M175.6 119.7h0.1M191.8 72.4h0.1M173.1 137.4h0.1M134.1 91.9h0.1M151.2 126.5h0.1M159.2 66.0h0.1M151.7 108.9h0.1M166.2 56.6h0.1M189.0 78.3h0.1" stroke="#3e3e3e" stroke-width="1.0" stroke-linecap="round"/>
<circle cx="127.7" cy="105.9" r="1.1" fill="#ececec"/>
<circle cx="170.3" cy="66.1" r="0.8" fill="#ececec"/>
<circle cx="179.0" cy="97.2" r="0.8" fill="#ececec"/>
<circle cx="166.8" cy="65.5" r="1.0" fill="#ececec"/>
<circle cx="178.0" cy="76.1" r="1.0" fill="#ececec"/>
<rect x="120.75" y="54.949999999999996" width="83.2" height="83.2" fill="none" stroke="#2c2c2c" stroke-width="1.3"/>
</g>
<line x1="162.90" y1="132.10" x2="198.40" y2="132.10" stroke="#111" stroke-width="2" />
<clipPath id="cp3"><rect x="209.6" y="54.3" width="84.5" height="84.5"/></clipPath><g clip-path="url(#cp3)">
<rect x="209.6" y="54.3" width="84.5" height="84.5" fill="#868686"/>
<g fill="#949494" opacity="0.3"><circle cx="231.3" cy="100.0" r="5.8"/><circle cx="260.0" cy="106.4" r="4.3"/><circle cx="213.6" cy="123.0" r="5.3"/><circle cx="231.0" cy="135.5" r="6.4"/><circle cx="278.3" cy="94.7" r="7.2"/><circle cx="224.4" cy="107.1" r="8.3"/><circle cx="253.7" cy="115.5" r="7.4"/><circle cx="217.6" cy="116.8" r="7.0"/><circle cx="236.2" cy="59.7" r="8.3"/><circle cx="249.7" cy="113.7" r="8.4"/><circle cx="268.7" cy="129.6" r="6.0"/><circle cx="275.5" cy="92.2" r="8.7"/><circle cx="281.6" cy="65.0" r="4.7"/><circle cx="229.6" cy="133.1" r="6.2"/><circle cx="261.8" cy="80.9" r="6.5"/><circle cx="242.9" cy="84.8" r="6.9"/><circle cx="258.5" cy="128.3" r="7.4"/><circle cx="285.5" cy="124.5" r="9.0"/><circle cx="265.3" cy="70.1" r="8.3"/><circle cx="288.3" cy="128.3" r="6.8"/><circle cx="268.6" cy="73.9" r="8.2"/><circle cx="257.6" cy="79.7" r="4.3"/><circle cx="279.6" cy="135.0" r="4.4"/><circle cx="275.4" cy="89.5" r="4.8"/><circle cx="235.7" cy="117.7" r="8.4"/><circle cx="216.1" cy="105.5" r="4.2"/><circle cx="269.0" cy="83.3" r="8.4"/><circle cx="289.6" cy="97.0" r="9.0"/><circle cx="236.9" cy="63.3" r="7.0"/><circle cx="215.1" cy="72.8" r="6.0"/><circle cx="260.5" cy="69.6" r="4.2"/><circle cx="280.7" cy="81.9" r="8.8"/><circle cx="283.0" cy="87.0" r="6.3"/><circle cx="253.4" cy="107.8" r="7.0"/><circle cx="256.5" cy="106.0" r="8.7"/><circle cx="252.4" cy="91.1" r="7.6"/><circle cx="231.3" cy="80.9" r="8.9"/><circle cx="253.5" cy="100.4" r="4.1"/><circle cx="245.2" cy="102.8" r="4.1"/><circle cx="260.9" cy="106.9" r="4.3"/></g>
<path d="M216.6 111.2l-3.9 0.4M258.8 79.5l1.7 3.7M258.9 77.0l2.1 5.3M244.4 112.6l3.9 1.3M281.6 90.6l-3.2 1.6M264.3 127.2l0.6 3.7M256.8 68.7l-4.9 3.4M234.4 119.9l-2.5 5.3M222.1 77.8l-3.1 2.4M244.0 86.8l1.7 6.0M213.0 132.8l-6.0 2.4M239.6 68.1l-0.6 5.8M278.9 130.5l-4.8 3.4M260.8 126.9l3.9 0.6M253.9 87.2l0.5 5.7M225.6 83.1l-1.8 5.4M276.8 104.8l0.9 4.2M270.3 87.9l-2.6 3.8M252.7 112.5l4.4 1.0M257.7 61.6l-0.8 2.9M232.3 104.8l-3.1 3.1M245.4 114.0l3.3 2.2M245.0 124.5l-1.0 3.8M210.9 93.1l1.3 3.4M233.9 118.3l5.8 2.8M284.1 85.8l-4.3 4.7M282.0 78.1l1.3 5.4M253.9 62.3l3.5 4.0M281.6 130.1l6.0 1.9M274.6 133.4l-2.5 4.2M265.4 68.5l-5.0 1.8M229.6 117.4l1.8 3.7M254.0 116.8l2.7 5.3M226.4 97.1l-0.8 3.6M261.6 107.6l-5.4 0.4M283.1 92.6l-1.7 5.3M274.6 107.8l0.1 4.8M229.7 57.8l-0.8 6.2M249.0 63.3l3.2 0.4M224.6 94.3l-2.9 4.0M264.1 77.2l0.6 5.6M226.2 128.6l-2.7 3.3M253.2 103.7l2.3 1.9M275.5 64.6l0.5 3.7M222.7 87.6l2.7 1.6M222.3 95.4l3.0 0.6M241.9 113.4l4.4 0.7M210.6 134.8l2.6 2.1M222.7 105.4l1.6 3.0M232.9 121.2l-1.7 3.9M267.7 134.8l-0.9 2.9M255.4 130.3l1.9 4.0M239.9 94.2l4.9 2.6M249.9 117.0l-1.8 2.8M283.7 107.5l-5.6 2.3M284.3 114.4l2.1 3.7M241.0 134.2l4.7 1.6M215.3 108.1l2.3 2.2M284.0 81.4l-1.5 4.3M217.9 78.0l0.9 3.1M236.2 91.0l-0.4 4.9M224.8 53.4l0.9 4.1M267.7 135.9l-0.7 4.4M247.6 119.0l0.9 6.3M212.6 100.5l-0.7 4.6M267.0 130.5l5.1 1.7M255.7 129.7l-5.2 0.7M286.3 66.9l2.1 5.5M234.5 134.2l-4.0 0.7M231.2 63.1l4.5 4.6M276.7 52.3l4.0 4.9M230.6 93.3l3.3 3.7M226.8 133.9l5.5 2.7M294.3 109.7l-1.6 3.1M220.5 62.2l2.8 5.5M229.0 133.6l-6.4 0.1M239.4 131.9l0.3 5.5M226.3 134.8l-3.1 1.7M253.0 90.4l4.6 2.3M280.5 122.4l4.0 5.0M265.1 126.6l-0.9 3.4M239.5 105.5l3.0 1.4M279.9 128.8l1.0 5.3M283.7 83.2l0.5 6.1M226.2 122.3l-1.0 3.1M240.9 54.0l-3.1 1.8M257.1 127.7l3.5 2.6M277.1 130.0l-5.0 2.4M290.9 63.8l-4.2 1.2M241.9 86.2l3.3 2.1M266.5 82.4l3.5 1.3M276.0 124.4l0.2 5.0M211.9 110.1l-2.8 3.1M259.0 73.4l-2.9 4.0M217.4 98.8l3.0 4.7M242.2 68.5l1.4 4.8M212.3 93.6l3.8 2.8M294.9 118.8l-4.1 4.6M222.0 108.9l3.2 3.6M283.2 114.5l-0.1 5.4M277.9 73.6l-0.7 5.0M229.5 67.5l-5.6 0.3M261.0 128.4l2.7 1.3M210.8 76.6l-2.1 2.9M246.2 109.1l2.0 3.2M275.5 82.0l3.3 2.9M236.6 100.2l-0.7 5.0M262.0 108.5l-3.3 3.6M237.6 58.2l-3.8 2.9M288.8 101.4l-1.7 4.2M292.7 65.5l2.7 5.9M249.6 92.6l4.4 4.4M266.5 78.0l0.3 4.0M217.8 106.3l6.1 1.8M258.8 54.5l3.2 4.6M222.9 61.3l4.0 2.5M283.2 100.1l2.2 4.0M270.4 115.2l2.3 5.0M273.5 92.5l1.8 4.4M227.3 122.4l1.0 4.0M284.9 75.6l6.3 0.4M290.8 73.0l-4.0 1.3M289.9 117.1l-2.7 1.7M247.6 58.5l-3.8 1.2M244.5 81.2l-2.4 4.5M217.1 102.7l6.0 0.5M237.7 85.1l4.9 0.2M251.3 89.7l0.5 5.5M280.6 99.9l5.9 1.5M215.2 122.4l3.4 4.1M274.5 104.9l-4.0 3.6M230.7 72.6l5.3 3.0M243.7 96.6l-2.4 3.3M243.4 133.5l0.8 3.7M260.4 104.1l0.1 4.8M245.5 113.3l3.2 2.3M255.2 103.0l3.6 0.0M256.6 82.9l-0.5 4.2M232.8 125.8l-4.2 2.7M260.4 135.2l2.7 3.0M222.2 120.9l5.4 1.7M285.4 116.0l-3.3 5.0M285.1 108.0l1.9 4.6M228.3 114.7l-4.5 2.8M269.5 96.2l2.0 4.7M214.1 123.4l5.0 0.2M217.0 89.0l-4.9 1.8M280.5 83.6l-4.2 1.4M289.7 58.3l4.0 4.1M219.2 83.1l-4.4 1.7M227.6 106.4l3.9 4.7M284.8 105.7l-3.6 2.2M288.0 72.3l-6.0 2.2M222.9 120.9l-5.5 2.0M287.2 80.6l3.8 0.8M239.9 74.4l4.3 2.3M269.4 69.6l-3.3 5.5M222.9 110.8l-2.4 5.8" stroke="#afafaf" stroke-width="2.1" stroke-linecap="round" fill="none"/>
<path d="M216.3 111.2l-3.1 0.4M259.0 79.9l1.4 3.0M259.1 77.6l1.7 4.2M244.8 112.8l3.1 1.0M281.3 90.7l-2.6 1.3M264.3 127.6l0.5 3.0M256.3 69.1l-3.9 2.7M234.1 120.4l-2.0 4.2M221.8 78.0l-2.5 1.9M244.1 87.4l1.4 4.8M212.4 133.1l-4.8 1.9M239.6 68.6l-0.5 4.7M278.4 130.8l-3.9 2.7M261.2 126.9l3.1 0.5M254.0 87.8l0.4 4.6M225.4 83.7l-1.5 4.3M276.9 105.3l0.7 3.4M270.1 88.3l-2.1 3.0M253.1 112.6l3.5 0.8M257.6 61.9l-0.7 2.3M232.0 105.1l-2.5 2.4M245.7 114.2l2.6 1.7M244.9 124.9l-0.8 3.0M211.0 93.5l1.0 2.7M234.5 118.6l4.7 2.3M283.7 86.2l-3.4 3.8M282.2 78.6l1.1 4.3M254.2 62.8l2.8 3.2M282.2 130.3l4.8 1.5M274.3 133.9l-2.0 3.3M264.9 68.7l-4.0 1.4M229.8 117.8l1.5 3.0M254.3 117.4l2.1 4.3M226.3 97.4l-0.6 2.9M261.0 107.7l-4.3 0.3M283.0 93.1l-1.4 4.2M274.7 108.3l0.1 3.9M229.6 58.4l-0.6 5.0M249.3 63.3l2.6 0.4M224.3 94.7l-2.3 3.2M264.2 77.8l0.5 4.5M226.0 129.0l-2.2 2.6M253.4 103.9l1.8 1.6M275.6 65.0l0.4 2.9M223.0 87.8l2.1 1.2M222.6 95.5l2.4 0.5M242.3 113.5l3.5 0.6M210.8 135.0l2.1 1.7M222.9 105.7l1.3 2.4M232.7 121.6l-1.3 3.1M267.6 135.0l-0.7 2.3M255.6 130.7l1.5 3.2M240.3 94.4l3.9 2.0M249.8 117.3l-1.4 2.3M283.1 107.7l-4.5 1.8M284.5 114.7l1.7 3.0M241.5 134.4l3.8 1.3M215.5 108.3l1.8 1.7M283.8 81.8l-1.2 3.5M218.0 78.3l0.7 2.5M236.1 91.5l-0.3 3.9M224.9 53.8l0.7 3.3M267.6 136.4l-0.5 3.5M247.7 119.6l0.8 5.0M212.5 101.0l-0.6 3.7M267.5 130.7l4.1 1.4M255.2 129.7l-4.2 0.5M286.6 67.4l1.7 4.4M234.1 134.3l-3.2 0.6M231.6 63.6l3.6 3.6M277.1 52.8l3.2 3.9M230.9 93.6l2.6 2.9M227.3 134.1l4.4 2.2M294.1 110.1l-1.2 2.5M220.8 62.8l2.2 4.4M228.4 133.6l-5.1 0.1M239.4 132.5l0.2 4.4M226.0 135.0l-2.5 1.4M253.4 90.7l3.7 1.8M280.9 122.9l3.2 4.0M265.0 126.9l-0.7 2.7M239.8 105.7l2.4 1.1M280.0 129.3l0.8 4.2M283.8 83.8l0.4 4.9M226.1 122.6l-0.8 2.5M240.5 54.2l-2.5 1.5M257.4 128.0l2.8 2.1M276.6 130.2l-4.0 1.9M290.5 63.9l-3.4 0.9M242.2 86.4l2.6 1.6M266.8 82.5l2.8 1.0M276.0 124.9l0.1 4.0M211.7 110.4l-2.3 2.5M258.7 73.8l-2.3 3.2M217.7 99.2l2.4 3.7M242.4 69.0l1.1 3.8M212.7 93.9l3.1 2.3M294.5 119.3l-3.3 3.7M222.3 109.2l2.5 2.9M283.2 115.1l-0.1 4.3M277.8 74.1l-0.6 4.0M229.0 67.6l-4.5 0.3M261.3 128.5l2.2 1.0M210.6 76.9l-1.7 2.3M246.4 109.4l1.6 2.6M275.9 82.3l2.7 2.4M236.6 100.7l-0.6 4.0M261.7 108.8l-2.6 2.9M237.2 58.5l-3.0 2.3M288.6 101.8l-1.4 3.4M293.0 66.1l2.1 4.7M250.0 93.1l3.6 3.5M266.5 78.4l0.3 3.2M218.4 106.5l4.9 1.4M259.2 54.9l2.6 3.7M223.3 61.6l3.2 2.0M283.4 100.4l1.7 3.2M270.6 115.8l1.8 4.0M273.6 92.9l1.4 3.5M227.4 122.8l0.8 3.2M285.5 75.6l5.0 0.3M290.4 73.2l-3.2 1.0M289.6 117.2l-2.2 1.4M247.2 58.6l-3.0 0.9M244.2 81.7l-1.9 3.6M217.7 102.7l4.8 0.4M238.2 85.2l3.9 0.1M251.3 90.3l0.4 4.4M281.2 100.0l4.7 1.2M215.5 122.8l2.7 3.3M274.1 105.2l-3.2 2.9M231.2 72.9l4.3 2.4M243.5 96.9l-1.9 2.7M243.5 133.9l0.7 2.9M260.4 104.6l0.1 3.9M245.8 113.5l2.5 1.9M255.6 103.0l2.9 0.0M256.5 83.3l-0.4 3.4M232.3 126.1l-3.4 2.2M260.7 135.5l2.2 2.4M222.7 121.1l4.3 1.3M285.1 116.5l-2.6 4.0M285.3 108.4l1.5 3.7M227.8 115.0l-3.6 2.2M269.7 96.6l1.6 3.7M214.6 123.5l4.0 0.2M216.6 89.2l-3.9 1.4M280.1 83.8l-3.3 1.1M290.1 58.7l3.2 3.3M218.8 83.2l-3.6 1.3M228.0 106.9l3.1 3.7M284.5 106.0l-2.9 1.8M287.4 72.5l-4.8 1.8M222.4 121.1l-4.4 1.6M287.6 80.7l3.1 0.7M240.3 74.7l3.5 1.9M269.1 70.1l-2.6 4.4M222.7 111.4l-2.0 4.6" stroke="#3e3e3e" stroke-width="0.9" stroke-linecap="round" fill="none"/>
<path d="M263.7 91.9L262.2 92.5L261.5 95.5L263.9 93.5ZM256.6 114.9L256.8 116.5L258.8 118.0L258.1 115.6ZM287.7 130.9L289.3 133.4L292.0 134.5L290.5 132.0ZM232.8 82.1L233.8 84.0L235.2 84.2L234.8 82.8ZM215.2 128.1L212.4 130.2L211.6 133.2L214.2 131.4ZM209.0 116.2L210.1 118.0L212.4 118.3L211.0 116.4ZM288.0 104.3L288.4 106.8L289.9 107.7L289.9 106.0ZM212.7 64.4L213.3 65.8L215.7 65.6L214.1 63.9ZM250.9 79.2L251.1 81.3L253.2 82.8L252.7 80.3ZM223.5 81.1L224.7 82.5L228.0 83.0L225.3 81.0ZM282.7 130.6L283.2 133.6L285.1 136.3L284.6 133.1ZM221.5 120.4L218.9 123.1L218.5 125.7L220.6 124.0ZM273.4 57.6L274.2 58.6L276.6 58.5L274.6 57.2ZM283.1 63.3L280.1 63.7L278.3 65.8L281.1 65.6ZM278.9 55.8L276.3 57.2L275.3 59.0L277.2 58.2ZM287.3 57.3L287.6 59.3L289.9 61.6L288.9 58.5ZM242.7 82.3L242.0 84.1L243.5 85.5L244.1 83.5ZM274.3 65.5L272.0 67.3L271.2 70.2L273.5 68.3ZM262.4 129.4L263.5 131.1L265.4 130.9L264.4 129.2ZM257.1 79.1L258.9 81.8L261.1 82.7L259.9 80.6ZM262.8 92.4L259.3 93.4L257.7 95.3L260.2 94.9ZM230.7 72.1L228.5 73.1L227.3 76.2L230.2 74.4ZM223.3 74.6L224.6 76.7L227.9 77.7L225.8 75.0ZM216.1 123.1L216.2 124.7L218.7 126.5L217.7 123.5ZM237.8 89.3L236.8 91.0L238.0 93.0L239.0 91.0ZM273.3 116.1L273.8 118.5L276.5 120.4L275.4 117.3ZM253.0 82.0L250.6 83.8L249.6 86.1L251.7 84.8ZM286.9 63.9L287.7 67.0L289.7 68.6L289.3 66.1ZM246.9 79.8L247.8 81.6L249.7 81.6L248.8 79.9ZM270.6 83.0L271.6 85.1L273.6 86.3L272.6 84.2ZM229.8 61.7L231.5 63.2L235.1 63.7L232.0 61.8ZM247.2 115.6L244.6 116.4L242.5 118.6L245.4 117.6ZM278.1 55.1L275.1 56.2L273.2 58.6L276.0 57.6ZM223.6 98.8L226.0 99.9L228.3 99.3L226.2 98.2ZM288.0 128.5L290.1 130.2L293.3 130.9L290.6 128.9ZM280.4 111.8L283.2 114.2L285.9 114.2L284.1 112.2ZM274.7 81.5L271.1 83.0L269.5 85.1L272.1 84.4ZM272.9 76.1L271.0 76.6L269.3 79.0L271.9 77.9ZM215.7 68.5L216.7 69.7L218.8 68.9L217.0 67.6ZM294.4 92.8L291.9 93.8L289.4 96.4L292.7 94.9ZM258.9 133.7L260.5 134.9L262.8 134.8L260.9 133.6ZM239.6 111.4L237.1 110.9L236.1 112.2L237.6 112.8ZM274.3 93.6L275.0 95.8L276.7 96.3L276.4 94.5ZM262.2 103.7L264.1 104.5L266.0 103.8L264.2 103.0ZM246.0 117.6L244.6 119.4L244.1 123.0L246.0 119.8ZM214.8 123.5L216.5 124.9L217.7 124.6L217.0 123.5ZM214.6 91.7L216.7 94.7L219.1 95.5L217.9 93.3ZM281.7 103.5L279.4 104.0L278.6 105.5L280.4 105.4ZM216.0 81.9L215.1 83.5L216.2 85.2L217.1 83.4ZM262.7 104.2L263.8 106.0L266.0 106.8L264.8 104.8ZM214.0 71.2L217.3 74.2L219.4 74.3L218.3 72.4ZM261.6 130.8L260.2 133.7L261.1 135.2L262.3 133.9ZM249.6 116.5L250.1 121.0L251.4 122.8L251.6 120.5ZM226.5 60.9L225.0 61.2L223.9 63.9L226.4 62.4ZM272.1 75.6L271.5 77.5L273.0 79.7L273.5 77.1ZM277.3 113.2L274.9 112.6L270.8 113.7L275.0 114.2ZM281.3 75.4L280.8 77.9L282.0 81.4L282.4 77.7ZM275.5 54.2L276.7 55.5L280.0 56.1L277.3 54.1ZM226.5 116.2L225.6 118.3L227.2 122.6L227.8 118.1ZM254.7 60.6L254.8 62.4L256.8 63.8L256.2 61.5ZM214.4 88.1L212.6 89.7L212.3 93.1L214.5 90.5ZM223.0 116.9L220.8 117.4L219.2 119.8L221.9 118.8ZM225.2 53.0L222.9 55.7L222.5 58.5L224.5 56.5ZM288.8 121.0L287.6 122.3L287.4 125.2L288.9 122.8ZM235.4 95.5L235.3 99.0L237.0 101.3L237.3 98.4ZM226.7 70.6L229.0 72.3L231.4 71.8L229.5 70.3ZM271.3 67.5L274.3 70.3L276.2 70.8L275.0 69.2ZM252.7 85.9L253.9 87.1L256.8 87.3L254.4 85.7ZM213.4 81.4L210.7 82.9L209.4 85.5L212.0 84.1ZM248.6 98.5L246.0 98.8L245.4 100.4L247.1 100.6ZM228.9 58.6L227.5 58.0L224.5 58.9L227.6 59.4ZM285.8 121.3L283.9 120.4L280.4 121.5L284.0 122.4ZM251.2 84.1L251.9 87.1L253.5 87.7L253.7 85.9ZM221.4 95.1L218.9 96.7L218.6 98.2L220.1 97.7ZM248.2 91.7L247.0 94.5L247.6 97.7L248.8 94.6ZM261.1 57.3L261.3 61.1L262.5 63.1L262.7 60.8ZM241.3 135.5L241.1 137.5L242.8 138.9L243.0 136.7ZM282.0 112.6L282.1 114.6L283.8 116.2L283.6 113.9ZM233.9 53.7L232.4 57.5L233.1 59.9L234.4 57.7ZM241.9 95.0L241.4 96.9L243.0 100.1L243.1 96.5ZM290.1 112.1L291.3 113.6L294.5 113.3L291.9 111.4ZM209.7 91.9L209.6 94.9L211.1 97.8L211.1 94.5ZM266.2 56.1L264.2 55.8L261.4 57.0L264.4 57.1ZM249.5 124.8L248.3 126.7L249.0 128.7L250.1 126.9ZM228.3 79.0L226.6 78.6L225.1 80.1L227.2 80.3ZM213.6 89.3L214.3 91.7L215.7 92.4L215.5 90.9ZM225.3 55.3L224.3 56.7L225.4 59.7L226.4 56.7ZM258.4 73.5L256.9 74.1L256.2 76.6L258.4 75.2ZM273.4 85.1L272.3 86.6L272.7 90.1L274.0 86.8ZM283.3 110.4L285.9 113.6L287.8 114.1L286.9 112.4ZM251.7 67.8L250.1 68.3L249.1 71.0L251.5 69.5ZM254.1 123.8L253.4 126.2L254.4 128.6L255.1 126.1ZM257.5 122.9L258.1 124.5L260.2 124.9L259.2 123.0ZM285.4 125.8L284.1 128.4L284.6 132.3L286.0 128.6ZM221.0 99.0L218.9 98.7L215.2 100.4L219.3 100.3ZM234.6 80.5L232.9 80.0L231.3 81.2L233.2 81.7ZM229.7 134.3L230.9 135.9L233.8 137.0L231.7 134.7ZM267.3 116.2L268.9 118.6L270.8 119.2L269.9 117.4ZM214.3 67.0L212.5 68.9L212.7 70.4L214.0 69.6ZM280.6 114.3L280.5 116.6L281.9 117.2L282.4 115.9ZM272.4 64.3L271.4 66.1L271.6 69.6L272.8 66.3ZM275.5 84.1L275.3 87.9L276.4 90.5L276.8 87.7ZM255.1 81.8L252.9 81.2L251.7 82.2L253.1 82.9ZM210.8 54.9L211.2 57.2L212.6 58.2L212.6 56.5ZM207.8 94.3L209.6 95.4L213.3 94.4L209.6 93.2ZM288.4 69.8L290.8 71.5L293.8 71.2L291.3 69.5ZM264.1 59.2L262.8 60.2L261.6 63.3L263.9 60.9ZM266.1 129.9L265.9 132.7L267.4 135.2L267.5 132.3ZM248.4 73.6L248.6 76.4L250.7 78.4L250.5 75.5ZM224.8 82.4L226.2 83.6L228.6 83.1L226.5 81.8ZM226.1 72.1L226.9 73.9L230.2 75.1L228.1 72.3ZM227.7 85.2L225.5 88.1L225.3 90.1L226.8 88.8ZM279.0 114.4L277.7 113.5L275.5 114.7L277.8 115.6ZM258.0 131.9L258.7 134.2L261.7 136.7L260.0 133.1ZM241.1 135.5L241.4 137.0L243.2 138.0L242.5 136.0ZM228.3 98.0L227.0 100.6L227.4 102.3L228.5 100.9ZM229.9 67.1L227.7 66.4L223.7 67.7L227.8 68.2ZM291.5 70.8L288.7 70.7L287.5 71.7L289.1 72.1ZM222.0 81.3L223.4 82.7L225.9 82.7L224.0 81.1ZM235.9 94.0L234.1 94.3L232.4 96.9L235.3 95.6ZM223.8 123.8L222.9 125.8L224.1 128.1L225.0 125.6ZM294.2 63.3L292.8 63.0L290.9 64.7L293.4 64.4ZM258.0 123.8L255.2 124.5L252.6 126.6L255.9 125.7ZM218.2 115.3L217.6 118.7L219.1 120.9L219.8 118.3ZM225.0 114.5L227.7 115.6L229.8 115.1L227.9 114.1ZM227.7 99.4L225.2 99.0L223.9 99.8L225.4 100.4ZM248.1 96.9L246.1 98.3L246.3 99.9L247.8 99.3ZM273.4 118.6L273.6 120.6L275.3 121.2L275.2 119.4ZM238.0 102.2L238.7 105.8L240.6 107.9L240.2 105.1ZM281.4 69.3L279.4 70.0L278.3 71.8L280.3 71.0ZM290.9 90.8L289.4 92.8L290.1 94.7L291.4 93.2ZM209.7 89.9L208.9 91.2L209.8 93.0L210.5 91.1ZM262.4 100.7L261.6 102.7L262.5 106.7L263.2 102.7ZM209.9 66.8L213.1 68.5L215.7 68.5L213.5 67.1ZM264.6 58.2L262.9 58.8L261.9 60.9L263.9 59.8ZM242.8 113.1L246.1 114.8L248.9 114.2L246.5 112.7ZM231.4 82.8L231.3 86.6L232.6 88.1L233.2 86.1ZM268.5 81.6L267.6 84.1L268.3 87.2L269.2 84.1ZM262.9 73.1L261.6 72.7L260.1 74.1L262.2 74.3ZM260.8 94.0L256.7 93.4L254.8 94.7L257.0 95.5ZM226.4 122.6L223.8 123.1L220.8 125.8L224.6 124.5ZM266.6 70.4L264.5 71.2L263.0 73.8L265.6 72.4ZM261.9 95.5L262.8 98.1L265.9 100.5L264.3 96.9ZM266.1 117.7L264.2 116.8L262.7 117.9L264.3 118.9ZM255.7 126.1L258.1 127.2L261.5 126.7L258.2 125.4ZM262.1 62.9L260.9 64.8L261.8 66.8L262.9 64.9ZM273.5 85.0L272.4 87.1L273.3 88.6L274.4 87.3ZM256.2 124.9L254.6 126.7L255.0 128.9L256.5 127.3ZM261.6 78.4L261.7 81.0L263.5 84.6L263.0 80.6ZM227.2 120.2L228.8 122.3L230.1 122.4L229.6 121.1ZM249.7 129.2L248.0 129.3L246.5 131.2L248.9 130.7ZM213.9 111.7L212.8 113.5L213.1 115.7L214.2 113.8ZM222.5 107.1L224.5 108.3L225.8 107.4L224.7 106.3ZM282.9 100.2L281.0 100.0L277.8 102.2L281.6 101.6ZM217.0 73.7L216.3 75.8L217.4 77.1L218.1 75.6ZM258.8 62.4L260.6 64.9L262.1 65.4L261.5 63.9ZM210.0 134.3L211.3 137.0L214.3 138.2L212.8 135.4ZM270.1 78.1L268.7 77.9L267.2 79.8L269.6 79.5ZM236.0 114.2L232.9 113.3L230.8 114.4L233.0 115.3ZM272.7 79.0L271.5 80.7L271.5 83.8L272.9 81.1ZM293.2 105.8L291.3 105.2L288.5 106.6L291.6 107.0ZM253.1 100.7L252.4 104.2L253.7 106.0L254.4 103.9Z" fill="#aaaaaa" stroke="#3e3e3e" stroke-width="0.5" stroke-linejoin="round"/>
<path d="M224.2 136.7h0.1M241.1 113.9h0.1M259.6 87.9h0.1M246.7 101.8h0.1M292.8 99.4h0.1M276.4 79.9h0.1M269.7 105.4h0.1M272.4 128.6h0.1M216.3 136.0h0.1M261.2 76.3h0.1M248.8 62.5h0.1M229.1 125.1h0.1M269.7 127.5h0.1M223.3 63.4h0.1M241.7 96.2h0.1M269.7 79.5h0.1M271.9 103.7h0.1M234.0 120.9h0.1M215.8 104.3h0.1M225.5 57.9h0.1M250.0 98.2h0.1M261.4 86.0h0.1M288.1 120.6h0.1M222.6 54.7h0.1M290.8 89.0h0.1M218.5 69.3h0.1M268.8 69.2h0.1M241.1 111.5h0.1M239.4 109.5h0.1M289.7 121.3h0.1M262.7 107.2h0.1M235.8 108.4h0.1M264.4 103.9h0.1M251.1 117.8h0.1M226.9 114.6h0.1M292.3 57.3h0.1M230.9 137.6h0.1M216.6 123.4h0.1M258.7 60.2h0.1M262.8 54.9h0.1M281.4 79.8h0.1M287.7 130.2h0.1M221.1 88.4h0.1M222.5 118.3h0.1M217.7 60.5h0.1M219.4 126.9h0.1M230.5 81.6h0.1M247.3 100.9h0.1M244.5 134.3h0.1M238.4 94.5h0.1M282.5 74.9h0.1M224.3 125.0h0.1M236.3 129.7h0.1M279.1 85.8h0.1M237.7 62.9h0.1M283.4 91.7h0.1M238.5 69.2h0.1M228.7 128.1h0.1M220.6 101.2h0.1M262.4 98.3h0.1" stroke="#3e3e3e" stroke-width="1.0" stroke-linecap="round"/>
<circle cx="252.0" cy="88.9" r="0.9" fill="#ececec"/>
<circle cx="275.8" cy="126.1" r="1.1" fill="#ececec"/>
<circle cx="233.3" cy="127.3" r="0.9" fill="#ececec"/>
<circle cx="227.3" cy="105.9" r="1.2" fill="#ececec"/>
<circle cx="257.2" cy="67.5" r="1.3" fill="#ececec"/>
<rect x="210.25" y="54.949999999999996" width="83.2" height="83.2" fill="none" stroke="#2c2c2c" stroke-width="1.3"/>
</g>
<line x1="252.40" y1="132.10" x2="287.90" y2="132.10" stroke="#111" stroke-width="2" />
<text transform="translate(314.00,14.50) scale(1,1.045)" font-size="18" text-anchor="start" fill="#111" stroke="#111" stroke-width="0.15" >B</text>
<rect x="328.70" y="31.50" width="353.80" height="106.90" fill="#fff" stroke="#3a3a3a" stroke-width="1.4" rx="1"/>
<rect x="328.70" y="143.60" width="353.80" height="106.70" fill="#fff" stroke="#3a3a3a" stroke-width="1.4" rx="1"/>
<rect x="328.70" y="255.10" width="353.80" height="106.10" fill="#fff" stroke="#3a3a3a" stroke-width="1.4" rx="1"/>
<text transform="translate(320.90,85.35) rotate(-90) scale(1,1.045)" font-size="13.3" text-anchor="middle" fill="#111" stroke="#111" stroke-width="0.15" >WT-MSC</text>
<text transform="translate(320.90,197.35) rotate(-90) scale(1,1.045)" font-size="13.3" text-anchor="middle" fill="#111" stroke="#111" stroke-width="0.15" >MD1-MSC</text>
<text transform="translate(320.90,308.55) rotate(-90) scale(1,1.045)" font-size="13.3" text-anchor="middle" fill="#111" stroke="#111" stroke-width="0.15" >MD2-MSC</text>
<text transform="translate(380.00,49.90) scale(1,1.045)" font-size="10" text-anchor="middle" fill="#111" stroke="#111" stroke-width="0.15" >CD44</text>
<text transform="translate(380.00,62.30) scale(1,1.045)" font-size="10" text-anchor="middle" fill="#111" stroke="#111" stroke-width="0.15" >99.2±0.1%</text>
<text transform="translate(339.20,96.05) rotate(-90) scale(1,1.045)" font-size="5.9" text-anchor="middle" fill="#111"  >% of Max</text>
<line x1="344.70" y1="126.80" x2="346.00" y2="126.80" stroke="#777" stroke-width="0.5" />
<text x="344.40" y="127.60" font-size="2.1" text-anchor="end" fill="#444">0</text>
<line x1="344.70" y1="115.00" x2="346.00" y2="115.00" stroke="#777" stroke-width="0.5" />
<text x="344.40" y="115.80" font-size="2.1" text-anchor="end" fill="#444">20</text>
<line x1="344.70" y1="103.20" x2="346.00" y2="103.20" stroke="#777" stroke-width="0.5" />
<text x="344.40" y="104.00" font-size="2.1" text-anchor="end" fill="#444">40</text>
<line x1="344.70" y1="91.40" x2="346.00" y2="91.40" stroke="#777" stroke-width="0.5" />
<text x="344.40" y="92.20" font-size="2.1" text-anchor="end" fill="#444">60</text>
<line x1="344.70" y1="79.60" x2="346.00" y2="79.60" stroke="#777" stroke-width="0.5" />
<text x="344.40" y="80.40" font-size="2.1" text-anchor="end" fill="#444">80</text>
<line x1="344.70" y1="67.80" x2="346.00" y2="67.80" stroke="#777" stroke-width="0.5" />
<text x="344.40" y="68.60" font-size="2.1" text-anchor="end" fill="#444">100</text>
<line x1="347.80" y1="127.30" x2="347.80" y2="128.60" stroke="#777" stroke-width="0.5" />
<text x="347.80" y="131.20" font-size="2.1" text-anchor="middle" fill="#444">10</text>
<line x1="363.15" y1="127.30" x2="363.15" y2="128.60" stroke="#777" stroke-width="0.5" />
<text x="363.15" y="131.20" font-size="2.1" text-anchor="middle" fill="#444">10</text>
<line x1="378.50" y1="127.30" x2="378.50" y2="128.60" stroke="#777" stroke-width="0.5" />
<text x="378.50" y="131.20" font-size="2.1" text-anchor="middle" fill="#444">10</text>
<line x1="393.85" y1="127.30" x2="393.85" y2="128.60" stroke="#777" stroke-width="0.5" />
<text x="393.85" y="131.20" font-size="2.1" text-anchor="middle" fill="#444">10</text>
<line x1="409.20" y1="127.30" x2="409.20" y2="128.60" stroke="#777" stroke-width="0.5" />
<text x="409.20" y="131.20" font-size="2.1" text-anchor="middle" fill="#444">10</text>
<path d="M346.36 126.10L347.63 126.74L350.17 126.10L352.71 125.85L355.25 126.36L358.43 125.47L360.97 125.85L364.15 124.83L367.33 122.92L369.87 120.38L371.14 117.20L372.42 108.31L373.69 95.59L374.96 82.88L375.97 74.62L376.86 72.71L377.75 74.62L378.52 79.70L379.15 80.34L379.66 85.42L380.42 93.69L381.31 94.96L382.20 98.14L383.22 104.49L384.49 110.85L385.76 115.93L387.03 121.02L388.31 124.19L390.21 126.10L393.39 127.12L393.39 127.30L346.36 127.30Z" fill="#e3e3e3" stroke="none"/>
<path d="M346.36 126.10L347.63 126.74L350.17 126.10L352.71 125.85L355.25 126.36L358.43 125.47L360.97 125.85L364.15 124.83L367.33 122.92L369.87 120.38L371.14 117.20L372.42 108.31L373.69 95.59L374.96 82.88L375.97 74.62L376.86 72.71L377.75 74.62L378.52 79.70L379.15 80.34L379.66 85.42L380.42 93.69L381.31 94.96L382.20 98.14L383.22 104.49L384.49 110.85L385.76 115.93L387.03 121.02L388.31 124.19L390.21 126.10L393.39 127.12" fill="none" stroke="#222" stroke-width="0.85" stroke-linejoin="round"/>
<path d="M346.36 66.99L347.63 75.25L348.90 85.42L350.17 98.14L352.71 108.31L355.25 117.20L357.16 123.56L359.07 126.74L361.61 127.37L393.39 127.00" fill="none" stroke="#f06a6a" stroke-width="0.85" stroke-linejoin="round"/>
<line x1="356.14" y1="91.78" x2="409.28" y2="91.78" stroke="#5e5e5e" stroke-width="0.8" />
<line x1="356.14" y1="90.58" x2="356.14" y2="92.98" stroke="#555" stroke-width="0.7" />
<rect x="346.00" y="64.80" width="63.40" height="62.50" fill="none" stroke="#888" stroke-width="0.8" />
<text transform="translate(468.20,49.90) scale(1,1.045)" font-size="10" text-anchor="middle" fill="#111" stroke="#111" stroke-width="0.15" >CD73</text>
<text transform="translate(468.20,62.30) scale(1,1.045)" font-size="10" text-anchor="middle" fill="#111" stroke="#111" stroke-width="0.15" >99.7±0.3%</text>
<text transform="translate(428.40,96.05) rotate(-90) scale(1,1.045)" font-size="5.9" text-anchor="middle" fill="#111"  >% of Max</text>
<line x1="433.90" y1="126.80" x2="435.20" y2="126.80" stroke="#777" stroke-width="0.5" />
<text x="433.60" y="127.60" font-size="2.1" text-anchor="end" fill="#444">0</text>
<line x1="433.90" y1="115.00" x2="435.20" y2="115.00" stroke="#777" stroke-width="0.5" />
<text x="433.60" y="115.80" font-size="2.1" text-anchor="end" fill="#444">20</text>
<line x1="433.90" y1="103.20" x2="435.20" y2="103.20" stroke="#777" stroke-width="0.5" />
<text x="433.60" y="104.00" font-size="2.1" text-anchor="end" fill="#444">40</text>
<line x1="433.90" y1="91.40" x2="435.20" y2="91.40" stroke="#777" stroke-width="0.5" />
<text x="433.60" y="92.20" font-size="2.1" text-anchor="end" fill="#444">60</text>
<line x1="433.90" y1="79.60" x2="435.20" y2="79.60" stroke="#777" stroke-width="0.5" />
<text x="433.60" y="80.40" font-size="2.1" text-anchor="end" fill="#444">80</text>
<line x1="433.90" y1="67.80" x2="435.20" y2="67.80" stroke="#777" stroke-width="0.5" />
<text x="433.60" y="68.60" font-size="2.1" text-anchor="end" fill="#444">100</text>
<line x1="437.00" y1="127.30" x2="437.00" y2="128.60" stroke="#777" stroke-width="0.5" />
<text x="437.00" y="131.20" font-size="2.1" text-anchor="middle" fill="#444">10</text>
<line x1="452.35" y1="127.30" x2="452.35" y2="128.60" stroke="#777" stroke-width="0.5" />
<text x="452.35" y="131.20" font-size="2.1" text-anchor="middle" fill="#444">10</text>
<line x1="467.70" y1="127.30" x2="467.70" y2="128.60" stroke="#777" stroke-width="0.5" />
<text x="467.70" y="131.20" font-size="2.1" text-anchor="middle" fill="#444">10</text>
<line x1="483.05" y1="127.30" x2="483.05" y2="128.60" stroke="#777" stroke-width="0.5" />
<text x="483.05" y="131.20" font-size="2.1" text-anchor="middle" fill="#444">10</text>
<line x1="498.40" y1="127.30" x2="498.40" y2="128.60" stroke="#777" stroke-width="0.5" />
<text x="498.40" y="131.20" font-size="2.1" text-anchor="middle" fill="#444">10</text>
<path d="M435.36 127.12L448.07 127.12L451.25 126.36L453.79 124.19L455.69 121.02L457.60 117.20L458.87 110.85L460.14 98.14L461.03 89.24L461.80 82.88L462.69 75.25L463.32 72.08L463.96 75.25L464.59 79.07L465.23 76.53L465.86 77.80L466.50 84.15L467.39 91.78L468.66 96.86L470.31 103.22L472.22 109.58L474.13 115.93L476.03 121.02L478.58 124.83L481.12 126.74L483.66 127.12L483.66 127.30L435.36 127.30Z" fill="#e3e3e3" stroke="none"/>
<path d="M435.36 127.12L448.07 127.12L451.25 126.36L453.79 124.19L455.69 121.02L457.60 117.20L458.87 110.85L460.14 98.14L461.03 89.24L461.80 82.88L462.69 75.25L463.32 72.08L463.96 75.25L464.59 79.07L465.23 76.53L465.86 77.80L466.50 84.15L467.39 91.78L468.66 96.86L470.31 103.22L472.22 109.58L474.13 115.93L476.03 121.02L478.58 124.83L481.12 126.74L483.66 127.12" fill="none" stroke="#222" stroke-width="0.85" stroke-linejoin="round"/>
<path d="M435.36 66.99L436.37 76.53L437.26 86.69L438.53 98.14L440.44 105.76L442.35 112.12L444.25 119.75L446.16 124.83L447.81 127.12L483.66 127.00" fill="none" stroke="#f06a6a" stroke-width="0.85" stroke-linejoin="round"/>
<line x1="445.14" y1="91.78" x2="497.64" y2="91.78" stroke="#5e5e5e" stroke-width="0.8" />
<line x1="445.14" y1="90.58" x2="445.14" y2="92.98" stroke="#555" stroke-width="0.7" />
<rect x="435.20" y="64.80" width="63.40" height="62.50" fill="none" stroke="#888" stroke-width="0.8" />
<text transform="translate(556.20,49.90) scale(1,1.045)" font-size="10" text-anchor="middle" fill="#111" stroke="#111" stroke-width="0.15" >CD90</text>
<text transform="translate(556.20,62.30) scale(1,1.045)" font-size="10" text-anchor="middle" fill="#111" stroke="#111" stroke-width="0.15" >99.3±0.3%</text>
<text transform="translate(517.30,96.05) rotate(-90) scale(1,1.045)" font-size="5.9" text-anchor="middle" fill="#111"  >% of Max</text>
<line x1="522.80" y1="126.80" x2="524.10" y2="126.80" stroke="#777" stroke-width="0.5" />
<text x="522.50" y="127.60" font-size="2.1" text-anchor="end" fill="#444">0</text>
<line x1="522.80" y1="115.00" x2="524.10" y2="115.00" stroke="#777" stroke-width="0.5" />
<text x="522.50" y="115.80" font-size="2.1" text-anchor="end" fill="#444">20</text>
<line x1="522.80" y1="103.20" x2="524.10" y2="103.20" stroke="#777" stroke-width="0.5" />
<text x="522.50" y="104.00" font-size="2.1" text-anchor="end" fill="#444">40</text>
<line x1="522.80" y1="91.40" x2="524.10" y2="91.40" stroke="#777" stroke-width="0.5" />
<text x="522.50" y="92.20" font-size="2.1" text-anchor="end" fill="#444">60</text>
<line x1="522.80" y1="79.60" x2="524.10" y2="79.60" stroke="#777" stroke-width="0.5" />
<text x="522.50" y="80.40" font-size="2.1" text-anchor="end" fill="#444">80</text>
<line x1="522.80" y1="67.80" x2="524.10" y2="67.80" stroke="#777" stroke-width="0.5" />
<text x="522.50" y="68.60" font-size="2.1" text-anchor="end" fill="#444">100</text>
<line x1="525.90" y1="127.30" x2="525.90" y2="128.60" stroke="#777" stroke-width="0.5" />
<text x="525.90" y="131.20" font-size="2.1" text-anchor="middle" fill="#444">10</text>
<line x1="541.25" y1="127.30" x2="541.25" y2="128.60" stroke="#777" stroke-width="0.5" />
<text x="541.25" y="131.20" font-size="2.1" text-anchor="middle" fill="#444">10</text>
<line x1="556.60" y1="127.30" x2="556.60" y2="128.60" stroke="#777" stroke-width="0.5" />
<text x="556.60" y="131.20" font-size="2.1" text-anchor="middle" fill="#444">10</text>
<line x1="571.95" y1="127.30" x2="571.95" y2="128.60" stroke="#777" stroke-width="0.5" />
<text x="571.95" y="131.20" font-size="2.1" text-anchor="middle" fill="#444">10</text>
<line x1="587.30" y1="127.30" x2="587.30" y2="128.60" stroke="#777" stroke-width="0.5" />
<text x="587.30" y="131.20" font-size="2.1" text-anchor="middle" fill="#444">10</text>
<path d="M524.36 127.12L530.71 126.74L534.53 125.85L537.07 124.19L539.61 122.92L541.52 120.38L542.79 119.11L544.06 119.75L545.97 119.11L547.87 118.47L549.14 113.39L550.42 110.85L552.32 105.76L554.23 101.31L556.14 96.86L557.41 93.05L558.42 90.51L559.31 86.06L560.58 84.79L561.86 82.25L562.49 79.07L563.13 74.62L563.76 79.07L564.40 80.97L565.29 82.25L566.31 79.07L566.94 85.42L567.83 91.78L568.85 94.32L570.12 100.68L571.39 104.49L573.30 109.58L575.20 113.39L577.11 118.47L579.02 122.29L580.92 125.47L582.83 126.74L585.37 127.37L585.37 127.30L524.36 127.30Z" fill="#e3e3e3" stroke="none"/>
<path d="M524.36 127.12L530.71 126.74L534.53 125.85L537.07 124.19L539.61 122.92L541.52 120.38L542.79 119.11L544.06 119.75L545.97 119.11L547.87 118.47L549.14 113.39L550.42 110.85L552.32 105.76L554.23 101.31L556.14 96.86L557.41 93.05L558.42 90.51L559.31 86.06L560.58 84.79L561.86 82.25L562.49 79.07L563.13 74.62L563.76 79.07L564.40 80.97L565.29 82.25L566.31 79.07L566.94 85.42L567.83 91.78L568.85 94.32L570.12 100.68L571.39 104.49L573.30 109.58L575.20 113.39L577.11 118.47L579.02 122.29L580.92 125.47L582.83 126.74L585.37 127.37" fill="none" stroke="#222" stroke-width="0.85" stroke-linejoin="round"/>
<path d="M524.36 66.99L524.61 89.24L525.37 85.42L525.88 75.25L526.39 72.08L527.15 72.71L527.66 82.88L528.42 98.14L529.44 110.85L530.71 117.20L531.98 119.75L533.89 123.56L535.80 126.10L538.34 127.12L585.37 127.00" fill="none" stroke="#f06a6a" stroke-width="0.85" stroke-linejoin="round"/>
<line x1="537.32" y1="91.78" x2="586.64" y2="91.78" stroke="#5e5e5e" stroke-width="0.8" />
<line x1="537.32" y1="90.58" x2="537.32" y2="92.98" stroke="#555" stroke-width="0.7" />
<rect x="524.10" y="64.80" width="63.40" height="62.50" fill="none" stroke="#888" stroke-width="0.8" />
<text transform="translate(644.30,49.90) scale(1,1.045)" font-size="10" text-anchor="middle" fill="#111" stroke="#111" stroke-width="0.15" >CD105</text>
<text transform="translate(644.30,62.30) scale(1,1.045)" font-size="10" text-anchor="middle" fill="#111" stroke="#111" stroke-width="0.15" >93.9±3.0%</text>
<text transform="translate(606.10,96.05) rotate(-90) scale(1,1.045)" font-size="5.9" text-anchor="middle" fill="#111"  >% of Max</text>
<line x1="611.60" y1="126.80" x2="612.90" y2="126.80" stroke="#777" stroke-width="0.5" />
<text x="611.30" y="127.60" font-size="2.1" text-anchor="end" fill="#444">0</text>
<line x1="611.60" y1="115.00" x2="612.90" y2="115.00" stroke="#777" stroke-width="0.5" />
<text x="611.30" y="115.80" font-size="2.1" text-anchor="end" fill="#444">20</text>
<line x1="611.60" y1="103.20" x2="612.90" y2="103.20" stroke="#777" stroke-width="0.5" />
<text x="611.30" y="104.00" font-size="2.1" text-anchor="end" fill="#444">40</text>
<line x1="611.60" y1="91.40" x2="612.90" y2="91.40" stroke="#777" stroke-width="0.5" />
<text x="611.30" y="92.20" font-size="2.1" text-anchor="end" fill="#444">60</text>
<line x1="611.60" y1="79.60" x2="612.90" y2="79.60" stroke="#777" stroke-width="0.5" />
<text x="611.30" y="80.40" font-size="2.1" text-anchor="end" fill="#444">80</text>
<line x1="611.60" y1="67.80" x2="612.90" y2="67.80" stroke="#777" stroke-width="0.5" />
<text x="611.30" y="68.60" font-size="2.1" text-anchor="end" fill="#444">100</text>
<line x1="614.70" y1="127.30" x2="614.70" y2="128.60" stroke="#777" stroke-width="0.5" />
<text x="614.70" y="131.20" font-size="2.1" text-anchor="middle" fill="#444">10</text>
<line x1="630.05" y1="127.30" x2="630.05" y2="128.60" stroke="#777" stroke-width="0.5" />
<text x="630.05" y="131.20" font-size="2.1" text-anchor="middle" fill="#444">10</text>
<line x1="645.40" y1="127.30" x2="645.40" y2="128.60" stroke="#777" stroke-width="0.5" />
<text x="645.40" y="131.20" font-size="2.1" text-anchor="middle" fill="#444">10</text>
<line x1="660.75" y1="127.30" x2="660.75" y2="128.60" stroke="#777" stroke-width="0.5" />
<text x="660.75" y="131.20" font-size="2.1" text-anchor="middle" fill="#444">10</text>
<line x1="676.10" y1="127.30" x2="676.10" y2="128.60" stroke="#777" stroke-width="0.5" />
<text x="676.10" y="131.20" font-size="2.1" text-anchor="middle" fill="#444">10</text>
<path d="M613.36 127.12L615.90 126.74L618.44 125.47L620.98 122.92L623.53 118.47L625.43 113.39L627.34 108.31L628.61 103.22L629.63 95.59L630.26 85.42L630.90 77.80L631.79 75.89L633.06 75.25L634.33 72.71L635.60 71.44L636.49 73.35L637.13 79.07L638.14 84.15L639.03 89.24L640.05 95.59L641.07 101.95L641.96 108.31L642.97 115.93L643.86 122.29L644.88 125.47L646.41 126.74L648.95 127.12L648.95 127.30L613.36 127.30Z" fill="#e3e3e3" stroke="none"/>
<path d="M613.36 127.12L615.90 126.74L618.44 125.47L620.98 122.92L623.53 118.47L625.43 113.39L627.34 108.31L628.61 103.22L629.63 95.59L630.26 85.42L630.90 77.80L631.79 75.89L633.06 75.25L634.33 72.71L635.60 71.44L636.49 73.35L637.13 79.07L638.14 84.15L639.03 89.24L640.05 95.59L641.07 101.95L641.96 108.31L642.97 115.93L643.86 122.29L644.88 125.47L646.41 126.74L648.95 127.12" fill="none" stroke="#222" stroke-width="0.85" stroke-linejoin="round"/>
<path d="M613.36 66.99L613.61 84.15L614.25 80.34L614.88 72.71L615.64 72.08L616.28 76.53L616.92 89.24L617.81 101.95L618.69 110.85L619.71 117.20L620.98 122.29L622.89 126.10L624.80 127.12L648.95 127.00" fill="none" stroke="#f06a6a" stroke-width="0.85" stroke-linejoin="round"/>
<line x1="622.89" y1="91.78" x2="675.64" y2="91.78" stroke="#5e5e5e" stroke-width="0.8" />
<line x1="622.89" y1="90.58" x2="622.89" y2="92.98" stroke="#555" stroke-width="0.7" />
<rect x="612.90" y="64.80" width="63.40" height="62.50" fill="none" stroke="#888" stroke-width="0.8" />
<text transform="translate(380.00,161.60) scale(1,1.045)" font-size="10" text-anchor="middle" fill="#111" stroke="#111" stroke-width="0.15" >CD44</text>
<text transform="translate(380.00,174.00) scale(1,1.045)" font-size="10" text-anchor="middle" fill="#111" stroke="#111" stroke-width="0.15" >99.6±0.1%</text>
<text transform="translate(339.20,207.45) rotate(-90) scale(1,1.045)" font-size="5.9" text-anchor="middle" fill="#111"  >% of Max</text>
<line x1="344.70" y1="238.20" x2="346.00" y2="238.20" stroke="#777" stroke-width="0.5" />
<text x="344.40" y="239.00" font-size="2.1" text-anchor="end" fill="#444">0</text>
<line x1="344.70" y1="226.40" x2="346.00" y2="226.40" stroke="#777" stroke-width="0.5" />
<text x="344.40" y="227.20" font-size="2.1" text-anchor="end" fill="#444">20</text>
<line x1="344.70" y1="214.60" x2="346.00" y2="214.60" stroke="#777" stroke-width="0.5" />
<text x="344.40" y="215.40" font-size="2.1" text-anchor="end" fill="#444">40</text>
<line x1="344.70" y1="202.80" x2="346.00" y2="202.80" stroke="#777" stroke-width="0.5" />
<text x="344.40" y="203.60" font-size="2.1" text-anchor="end" fill="#444">60</text>
<line x1="344.70" y1="191.00" x2="346.00" y2="191.00" stroke="#777" stroke-width="0.5" />
<text x="344.40" y="191.80" font-size="2.1" text-anchor="end" fill="#444">80</text>
<line x1="344.70" y1="179.20" x2="346.00" y2="179.20" stroke="#777" stroke-width="0.5" />
<text x="344.40" y="180.00" font-size="2.1" text-anchor="end" fill="#444">100</text>
<line x1="347.80" y1="238.70" x2="347.80" y2="240.00" stroke="#777" stroke-width="0.5" />
<text x="347.80" y="242.60" font-size="2.1" text-anchor="middle" fill="#444">10</text>
<line x1="363.15" y1="238.70" x2="363.15" y2="240.00" stroke="#777" stroke-width="0.5" />
<text x="363.15" y="242.60" font-size="2.1" text-anchor="middle" fill="#444">10</text>
<line x1="378.50" y1="238.70" x2="378.50" y2="240.00" stroke="#777" stroke-width="0.5" />
<text x="378.50" y="242.60" font-size="2.1" text-anchor="middle" fill="#444">10</text>
<line x1="393.85" y1="238.70" x2="393.85" y2="240.00" stroke="#777" stroke-width="0.5" />
<text x="393.85" y="242.60" font-size="2.1" text-anchor="middle" fill="#444">10</text>
<line x1="409.20" y1="238.70" x2="409.20" y2="240.00" stroke="#777" stroke-width="0.5" />
<text x="409.20" y="242.60" font-size="2.1" text-anchor="middle" fill="#444">10</text>
<path d="M346.36 238.10L369.24 238.10L373.05 237.85L375.59 236.83L377.50 234.92L378.77 231.75L380.04 222.85L380.93 212.68L381.69 202.51L382.33 193.61L382.97 185.98L383.60 182.17L384.24 184.08L384.87 185.98L385.38 191.07L386.02 201.24L386.78 212.68L387.67 225.39L388.94 233.02L390.21 236.19L392.12 237.85L394.66 238.10L394.66 238.70L346.36 238.70Z" fill="#e3e3e3" stroke="none"/>
<path d="M346.36 238.10L369.24 238.10L373.05 237.85L375.59 236.83L377.50 234.92L378.77 231.75L380.04 222.85L380.93 212.68L381.69 202.51L382.33 193.61L382.97 185.98L383.60 182.17L384.24 184.08L384.87 185.98L385.38 191.07L386.02 201.24L386.78 212.68L387.67 225.39L388.94 233.02L390.21 236.19L392.12 237.85L394.66 238.10" fill="none" stroke="#222" stroke-width="0.85" stroke-linejoin="round"/>
<path d="M346.36 178.10L347.37 185.98L348.26 197.42L349.53 210.14L350.81 220.31L352.08 227.93L353.98 229.84L355.25 231.75L356.53 234.29L358.43 236.19L360.97 237.47L363.52 238.10L394.66 238.40" fill="none" stroke="#f06a6a" stroke-width="0.85" stroke-linejoin="round"/>
<line x1="359.32" y1="202.89" x2="408.64" y2="202.89" stroke="#5e5e5e" stroke-width="0.8" />
<line x1="359.32" y1="201.69" x2="359.32" y2="204.09" stroke="#555" stroke-width="0.7" />
<rect x="346.00" y="176.20" width="63.40" height="62.50" fill="none" stroke="#888" stroke-width="0.8" />
<text transform="translate(468.20,161.60) scale(1,1.045)" font-size="10" text-anchor="middle" fill="#111" stroke="#111" stroke-width="0.15" >CD73</text>
<text transform="translate(468.20,174.00) scale(1,1.045)" font-size="10" text-anchor="middle" fill="#111" stroke="#111" stroke-width="0.15" >99.7±0.2%</text>
<text transform="translate(428.40,207.45) rotate(-90) scale(1,1.045)" font-size="5.9" text-anchor="middle" fill="#111"  >% of Max</text>
<line x1="433.90" y1="238.20" x2="435.20" y2="238.20" stroke="#777" stroke-width="0.5" />
<text x="433.60" y="239.00" font-size="2.1" text-anchor="end" fill="#444">0</text>
<line x1="433.90" y1="226.40" x2="435.20" y2="226.40" stroke="#777" stroke-width="0.5" />
<text x="433.60" y="227.20" font-size="2.1" text-anchor="end" fill="#444">20</text>
<line x1="433.90" y1="214.60" x2="435.20" y2="214.60" stroke="#777" stroke-width="0.5" />
<text x="433.60" y="215.40" font-size="2.1" text-anchor="end" fill="#444">40</text>
<line x1="433.90" y1="202.80" x2="435.20" y2="202.80" stroke="#777" stroke-width="0.5" />
<text x="433.60" y="203.60" font-size="2.1" text-anchor="end" fill="#444">60</text>
<line x1="433.90" y1="191.00" x2="435.20" y2="191.00" stroke="#777" stroke-width="0.5" />
<text x="433.60" y="191.80" font-size="2.1" text-anchor="end" fill="#444">80</text>
<line x1="433.90" y1="179.20" x2="435.20" y2="179.20" stroke="#777" stroke-width="0.5" />
<text x="433.60" y="180.00" font-size="2.1" text-anchor="end" fill="#444">100</text>
<line x1="437.00" y1="238.70" x2="437.00" y2="240.00" stroke="#777" stroke-width="0.5" />
<text x="437.00" y="242.60" font-size="2.1" text-anchor="middle" fill="#444">10</text>
<line x1="452.35" y1="238.70" x2="452.35" y2="240.00" stroke="#777" stroke-width="0.5" />
<text x="452.35" y="242.60" font-size="2.1" text-anchor="middle" fill="#444">10</text>
<line x1="467.70" y1="238.70" x2="467.70" y2="240.00" stroke="#777" stroke-width="0.5" />
<text x="467.70" y="242.60" font-size="2.1" text-anchor="middle" fill="#444">10</text>
<line x1="483.05" y1="238.70" x2="483.05" y2="240.00" stroke="#777" stroke-width="0.5" />
<text x="483.05" y="242.60" font-size="2.1" text-anchor="middle" fill="#444">10</text>
<line x1="498.40" y1="238.70" x2="498.40" y2="240.00" stroke="#777" stroke-width="0.5" />
<text x="498.40" y="242.60" font-size="2.1" text-anchor="middle" fill="#444">10</text>
<path d="M435.36 238.10L451.88 238.10L454.42 237.47L456.33 236.19L457.60 234.29L458.87 230.47L460.14 221.58L461.42 210.14L462.31 201.24L463.07 192.34L463.70 185.98L464.34 184.71L464.97 186.62L465.86 187.25L466.50 188.53L467.14 194.88L468.15 202.51L469.42 210.14L470.69 217.76L471.58 220.31L472.86 225.39L474.13 230.47L475.40 234.29L477.31 236.83L479.85 237.85L484.93 238.10L484.93 238.70L435.36 238.70Z" fill="#e3e3e3" stroke="none"/>
<path d="M435.36 238.10L451.88 238.10L454.42 237.47L456.33 236.19L457.60 234.29L458.87 230.47L460.14 221.58L461.42 210.14L462.31 201.24L463.07 192.34L463.70 185.98L464.34 184.71L464.97 186.62L465.86 187.25L466.50 188.53L467.14 194.88L468.15 202.51L469.42 210.14L470.69 217.76L471.58 220.31L472.86 225.39L474.13 230.47L475.40 234.29L477.31 236.83L479.85 237.85L484.93 238.10" fill="none" stroke="#222" stroke-width="0.85" stroke-linejoin="round"/>
<path d="M435.36 178.10L436.37 185.98L437.26 197.42L438.53 210.14L439.81 220.31L441.08 227.93L442.98 229.84L444.25 231.75L445.53 234.29L447.43 236.19L449.97 237.47L452.52 238.10L484.93 238.40" fill="none" stroke="#f06a6a" stroke-width="0.85" stroke-linejoin="round"/>
<line x1="448.07" y1="202.89" x2="497.64" y2="202.89" stroke="#5e5e5e" stroke-width="0.8" />
<line x1="448.07" y1="201.69" x2="448.07" y2="204.09" stroke="#555" stroke-width="0.7" />
<rect x="435.20" y="176.20" width="63.40" height="62.50" fill="none" stroke="#888" stroke-width="0.8" />
<text transform="translate(556.20,161.60) scale(1,1.045)" font-size="10" text-anchor="middle" fill="#111" stroke="#111" stroke-width="0.15" >CD90</text>
<text transform="translate(556.20,174.00) scale(1,1.045)" font-size="10" text-anchor="middle" fill="#111" stroke="#111" stroke-width="0.15" >99.8±0.1%</text>
<text transform="translate(517.30,207.45) rotate(-90) scale(1,1.045)" font-size="5.9" text-anchor="middle" fill="#111"  >% of Max</text>
<line x1="522.80" y1="238.20" x2="524.10" y2="238.20" stroke="#777" stroke-width="0.5" />
<text x="522.50" y="239.00" font-size="2.1" text-anchor="end" fill="#444">0</text>
<line x1="522.80" y1="226.40" x2="524.10" y2="226.40" stroke="#777" stroke-width="0.5" />
<text x="522.50" y="227.20" font-size="2.1" text-anchor="end" fill="#444">20</text>
<line x1="522.80" y1="214.60" x2="524.10" y2="214.60" stroke="#777" stroke-width="0.5" />
<text x="522.50" y="215.40" font-size="2.1" text-anchor="end" fill="#444">40</text>
<line x1="522.80" y1="202.80" x2="524.10" y2="202.80" stroke="#777" stroke-width="0.5" />
<text x="522.50" y="203.60" font-size="2.1" text-anchor="end" fill="#444">60</text>
<line x1="522.80" y1="191.00" x2="524.10" y2="191.00" stroke="#777" stroke-width="0.5" />
<text x="522.50" y="191.80" font-size="2.1" text-anchor="end" fill="#444">80</text>
<line x1="522.80" y1="179.20" x2="524.10" y2="179.20" stroke="#777" stroke-width="0.5" />
<text x="522.50" y="180.00" font-size="2.1" text-anchor="end" fill="#444">100</text>
<line x1="525.90" y1="238.70" x2="525.90" y2="240.00" stroke="#777" stroke-width="0.5" />
<text x="525.90" y="242.60" font-size="2.1" text-anchor="middle" fill="#444">10</text>
<line x1="541.25" y1="238.70" x2="541.25" y2="240.00" stroke="#777" stroke-width="0.5" />
<text x="541.25" y="242.60" font-size="2.1" text-anchor="middle" fill="#444">10</text>
<line x1="556.60" y1="238.70" x2="556.60" y2="240.00" stroke="#777" stroke-width="0.5" />
<text x="556.60" y="242.60" font-size="2.1" text-anchor="middle" fill="#444">10</text>
<line x1="571.95" y1="238.70" x2="571.95" y2="240.00" stroke="#777" stroke-width="0.5" />
<text x="571.95" y="242.60" font-size="2.1" text-anchor="middle" fill="#444">10</text>
<line x1="587.30" y1="238.70" x2="587.30" y2="240.00" stroke="#777" stroke-width="0.5" />
<text x="587.30" y="242.60" font-size="2.1" text-anchor="middle" fill="#444">10</text>
<path d="M524.36 238.10L543.42 238.10L548.51 237.85L551.69 236.83L553.59 235.56L555.50 231.75L557.41 225.39L558.68 219.03L559.95 211.41L561.22 203.78L562.24 196.15L563.13 189.80L564.02 185.98L564.78 184.71L565.42 186.62L566.31 191.07L567.32 197.42L568.21 203.78L569.48 210.14L570.75 217.76L572.03 224.12L573.30 227.93L575.20 230.47L577.11 233.02L579.02 235.56L581.56 237.47L584.10 238.10L586.64 238.36L586.64 238.70L524.36 238.70Z" fill="#e3e3e3" stroke="none"/>
<path d="M524.36 238.10L543.42 238.10L548.51 237.85L551.69 236.83L553.59 235.56L555.50 231.75L557.41 225.39L558.68 219.03L559.95 211.41L561.22 203.78L562.24 196.15L563.13 189.80L564.02 185.98L564.78 184.71L565.42 186.62L566.31 191.07L567.32 197.42L568.21 203.78L569.48 210.14L570.75 217.76L572.03 224.12L573.30 227.93L575.20 230.47L577.11 233.02L579.02 235.56L581.56 237.47L584.10 238.10L586.64 238.36" fill="none" stroke="#222" stroke-width="0.85" stroke-linejoin="round"/>
<path d="M524.36 178.10L524.74 198.69L525.37 197.42L526.01 187.25L526.64 183.44L527.28 185.98L527.92 197.42L528.81 210.14L529.69 220.31L530.71 227.93L532.62 233.02L534.53 235.56L537.07 236.83L540.25 238.10L586.64 238.40" fill="none" stroke="#f06a6a" stroke-width="0.85" stroke-linejoin="round"/>
<line x1="537.07" y1="202.51" x2="586.64" y2="202.51" stroke="#5e5e5e" stroke-width="0.8" />
<line x1="537.07" y1="201.31" x2="537.07" y2="203.71" stroke="#555" stroke-width="0.7" />
<rect x="524.10" y="176.20" width="63.40" height="62.50" fill="none" stroke="#888" stroke-width="0.8" />
<text transform="translate(644.30,161.60) scale(1,1.045)" font-size="10" text-anchor="middle" fill="#111" stroke="#111" stroke-width="0.15" >CD105</text>
<text transform="translate(644.30,174.00) scale(1,1.045)" font-size="10" text-anchor="middle" fill="#111" stroke="#111" stroke-width="0.15" >93.7±2.8%</text>
<text transform="translate(606.10,207.45) rotate(-90) scale(1,1.045)" font-size="5.9" text-anchor="middle" fill="#111"  >% of Max</text>
<line x1="611.60" y1="238.20" x2="612.90" y2="238.20" stroke="#777" stroke-width="0.5" />
<text x="611.30" y="239.00" font-size="2.1" text-anchor="end" fill="#444">0</text>
<line x1="611.60" y1="226.40" x2="612.90" y2="226.40" stroke="#777" stroke-width="0.5" />
<text x="611.30" y="227.20" font-size="2.1" text-anchor="end" fill="#444">20</text>
<line x1="611.60" y1="214.60" x2="612.90" y2="214.60" stroke="#777" stroke-width="0.5" />
<text x="611.30" y="215.40" font-size="2.1" text-anchor="end" fill="#444">40</text>
<line x1="611.60" y1="202.80" x2="612.90" y2="202.80" stroke="#777" stroke-width="0.5" />
<text x="611.30" y="203.60" font-size="2.1" text-anchor="end" fill="#444">60</text>
<line x1="611.60" y1="191.00" x2="612.90" y2="191.00" stroke="#777" stroke-width="0.5" />
<text x="611.30" y="191.80" font-size="2.1" text-anchor="end" fill="#444">80</text>
<line x1="611.60" y1="179.20" x2="612.90" y2="179.20" stroke="#777" stroke-width="0.5" />
<text x="611.30" y="180.00" font-size="2.1" text-anchor="end" fill="#444">100</text>
<line x1="614.70" y1="238.70" x2="614.70" y2="240.00" stroke="#777" stroke-width="0.5" />
<text x="614.70" y="242.60" font-size="2.1" text-anchor="middle" fill="#444">10</text>
<line x1="630.05" y1="238.70" x2="630.05" y2="240.00" stroke="#777" stroke-width="0.5" />
<text x="630.05" y="242.60" font-size="2.1" text-anchor="middle" fill="#444">10</text>
<line x1="645.40" y1="238.70" x2="645.40" y2="240.00" stroke="#777" stroke-width="0.5" />
<text x="645.40" y="242.60" font-size="2.1" text-anchor="middle" fill="#444">10</text>
<line x1="660.75" y1="238.70" x2="660.75" y2="240.00" stroke="#777" stroke-width="0.5" />
<text x="660.75" y="242.60" font-size="2.1" text-anchor="middle" fill="#444">10</text>
<line x1="676.10" y1="238.70" x2="676.10" y2="240.00" stroke="#777" stroke-width="0.5" />
<text x="676.10" y="242.60" font-size="2.1" text-anchor="middle" fill="#444">10</text>
<path d="M613.36 238.10L618.44 237.85L620.98 237.47L622.89 236.19L624.80 231.75L626.07 226.66L627.34 220.31L628.61 212.68L629.63 205.05L630.26 193.61L631.15 191.07L632.04 188.53L632.81 186.62L633.69 184.08L634.33 183.44L634.97 186.62L635.98 192.34L636.87 197.42L637.76 202.51L639.03 210.14L640.31 215.22L641.32 219.03L642.34 225.39L643.48 231.75L644.50 235.56L645.77 237.47L647.68 238.10L647.68 238.70L613.36 238.70Z" fill="#e3e3e3" stroke="none"/>
<path d="M613.36 238.10L618.44 237.85L620.98 237.47L622.89 236.19L624.80 231.75L626.07 226.66L627.34 220.31L628.61 212.68L629.63 205.05L630.26 193.61L631.15 191.07L632.04 188.53L632.81 186.62L633.69 184.08L634.33 183.44L634.97 186.62L635.98 192.34L636.87 197.42L637.76 202.51L639.03 210.14L640.31 215.22L641.32 219.03L642.34 225.39L643.48 231.75L644.50 235.56L645.77 237.47L647.68 238.10" fill="none" stroke="#222" stroke-width="0.85" stroke-linejoin="round"/>
<path d="M613.36 178.10L613.61 198.69L614.25 197.42L614.88 187.25L615.52 182.81L616.15 184.71L616.79 197.42L617.55 210.14L618.44 222.85L619.71 230.47L620.98 234.29L622.89 236.19L624.80 237.08L627.34 237.85L629.88 238.10L647.68 238.40" fill="none" stroke="#f06a6a" stroke-width="0.85" stroke-linejoin="round"/>
<line x1="626.07" y1="202.51" x2="675.64" y2="202.51" stroke="#5e5e5e" stroke-width="0.8" />
<line x1="626.07" y1="201.31" x2="626.07" y2="203.71" stroke="#555" stroke-width="0.7" />
<rect x="612.90" y="176.20" width="63.40" height="62.50" fill="none" stroke="#888" stroke-width="0.8" />
<text transform="translate(380.00,273.40) scale(1,1.045)" font-size="10" text-anchor="middle" fill="#111" stroke="#111" stroke-width="0.15" >CD44</text>
<text transform="translate(380.00,285.80) scale(1,1.045)" font-size="10" text-anchor="middle" fill="#111" stroke="#111" stroke-width="0.15" >99.6±0.3%</text>
<text transform="translate(339.20,319.05) rotate(-90) scale(1,1.045)" font-size="5.9" text-anchor="middle" fill="#111"  >% of Max</text>
<line x1="344.70" y1="349.80" x2="346.00" y2="349.80" stroke="#777" stroke-width="0.5" />
<text x="344.40" y="350.60" font-size="2.1" text-anchor="end" fill="#444">0</text>
<line x1="344.70" y1="338.00" x2="346.00" y2="338.00" stroke="#777" stroke-width="0.5" />
<text x="344.40" y="338.80" font-size="2.1" text-anchor="end" fill="#444">20</text>
<line x1="344.70" y1="326.20" x2="346.00" y2="326.20" stroke="#777" stroke-width="0.5" />
<text x="344.40" y="327.00" font-size="2.1" text-anchor="end" fill="#444">40</text>
<line x1="344.70" y1="314.40" x2="346.00" y2="314.40" stroke="#777" stroke-width="0.5" />
<text x="344.40" y="315.20" font-size="2.1" text-anchor="end" fill="#444">60</text>
<line x1="344.70" y1="302.60" x2="346.00" y2="302.60" stroke="#777" stroke-width="0.5" />
<text x="344.40" y="303.40" font-size="2.1" text-anchor="end" fill="#444">80</text>
<line x1="344.70" y1="290.80" x2="346.00" y2="290.80" stroke="#777" stroke-width="0.5" />
<text x="344.40" y="291.60" font-size="2.1" text-anchor="end" fill="#444">100</text>
<line x1="347.80" y1="350.30" x2="347.80" y2="351.60" stroke="#777" stroke-width="0.5" />
<text x="347.80" y="354.20" font-size="2.1" text-anchor="middle" fill="#444">10</text>
<line x1="363.15" y1="350.30" x2="363.15" y2="351.60" stroke="#777" stroke-width="0.5" />
<text x="363.15" y="354.20" font-size="2.1" text-anchor="middle" fill="#444">10</text>
<line x1="378.50" y1="350.30" x2="378.50" y2="351.60" stroke="#777" stroke-width="0.5" />
<text x="378.50" y="354.20" font-size="2.1" text-anchor="middle" fill="#444">10</text>
<line x1="393.85" y1="350.30" x2="393.85" y2="351.60" stroke="#777" stroke-width="0.5" />
<text x="393.85" y="354.20" font-size="2.1" text-anchor="middle" fill="#444">10</text>
<line x1="409.20" y1="350.30" x2="409.20" y2="351.60" stroke="#777" stroke-width="0.5" />
<text x="409.20" y="354.20" font-size="2.1" text-anchor="middle" fill="#444">10</text>
<path d="M346.36 350.37L369.24 350.12L373.05 349.74L376.86 348.85L380.04 347.19L381.95 344.02L383.22 337.66L384.49 326.22L385.51 314.78L386.40 302.07L387.03 296.98L387.67 295.71L388.31 296.98L388.94 302.07L389.83 309.69L390.85 316.05L391.86 323.68L392.75 332.58L393.64 340.20L394.66 345.29L395.93 349.10L397.84 350.37L397.84 350.30L346.36 350.30Z" fill="#e3e3e3" stroke="none"/>
<path d="M346.36 350.37L369.24 350.12L373.05 349.74L376.86 348.85L380.04 347.19L381.95 344.02L383.22 337.66L384.49 326.22L385.51 314.78L386.40 302.07L387.03 296.98L387.67 295.71L388.31 296.98L388.94 302.07L389.83 309.69L390.85 316.05L391.86 323.68L392.75 332.58L393.64 340.20L394.66 345.29L395.93 349.10L397.84 350.37" fill="none" stroke="#222" stroke-width="0.85" stroke-linejoin="round"/>
<path d="M346.36 289.99L346.61 313.51L347.37 314.78L348.01 308.42L348.64 300.80L349.53 296.98L350.17 295.71L350.81 300.80L351.44 302.07L352.08 308.42L352.71 317.32L353.73 324.95L354.62 331.31L355.89 338.93L357.80 344.02L360.34 347.83L362.88 349.74L365.42 350.37L397.84 350.00" fill="none" stroke="#f06a6a" stroke-width="0.85" stroke-linejoin="round"/>
<line x1="361.61" y1="314.78" x2="409.28" y2="314.78" stroke="#5e5e5e" stroke-width="0.8" />
<line x1="361.61" y1="313.58" x2="361.61" y2="315.98" stroke="#555" stroke-width="0.7" />
<rect x="346.00" y="287.80" width="63.40" height="62.50" fill="none" stroke="#888" stroke-width="0.8" />
<text transform="translate(468.20,273.40) scale(1,1.045)" font-size="10" text-anchor="middle" fill="#111" stroke="#111" stroke-width="0.15" >CD73</text>
<text transform="translate(468.20,285.80) scale(1,1.045)" font-size="10" text-anchor="middle" fill="#111" stroke="#111" stroke-width="0.15" >99.6±0.2%</text>
<text transform="translate(428.40,319.05) rotate(-90) scale(1,1.045)" font-size="5.9" text-anchor="middle" fill="#111"  >% of Max</text>
<line x1="433.90" y1="349.80" x2="435.20" y2="349.80" stroke="#777" stroke-width="0.5" />
<text x="433.60" y="350.60" font-size="2.1" text-anchor="end" fill="#444">0</text>
<line x1="433.90" y1="338.00" x2="435.20" y2="338.00" stroke="#777" stroke-width="0.5" />
<text x="433.60" y="338.80" font-size="2.1" text-anchor="end" fill="#444">20</text>
<line x1="433.90" y1="326.20" x2="435.20" y2="326.20" stroke="#777" stroke-width="0.5" />
<text x="433.60" y="327.00" font-size="2.1" text-anchor="end" fill="#444">40</text>
<line x1="433.90" y1="314.40" x2="435.20" y2="314.40" stroke="#777" stroke-width="0.5" />
<text x="433.60" y="315.20" font-size="2.1" text-anchor="end" fill="#444">60</text>
<line x1="433.90" y1="302.60" x2="435.20" y2="302.60" stroke="#777" stroke-width="0.5" />
<text x="433.60" y="303.40" font-size="2.1" text-anchor="end" fill="#444">80</text>
<line x1="433.90" y1="290.80" x2="435.20" y2="290.80" stroke="#777" stroke-width="0.5" />
<text x="433.60" y="291.60" font-size="2.1" text-anchor="end" fill="#444">100</text>
<line x1="437.00" y1="350.30" x2="437.00" y2="351.60" stroke="#777" stroke-width="0.5" />
<text x="437.00" y="354.20" font-size="2.1" text-anchor="middle" fill="#444">10</text>
<line x1="452.35" y1="350.30" x2="452.35" y2="351.60" stroke="#777" stroke-width="0.5" />
<text x="452.35" y="354.20" font-size="2.1" text-anchor="middle" fill="#444">10</text>
<line x1="467.70" y1="350.30" x2="467.70" y2="351.60" stroke="#777" stroke-width="0.5" />
<text x="467.70" y="354.20" font-size="2.1" text-anchor="middle" fill="#444">10</text>
<line x1="483.05" y1="350.30" x2="483.05" y2="351.60" stroke="#777" stroke-width="0.5" />
<text x="483.05" y="354.20" font-size="2.1" text-anchor="middle" fill="#444">10</text>
<line x1="498.40" y1="350.30" x2="498.40" y2="351.60" stroke="#777" stroke-width="0.5" />
<text x="498.40" y="354.20" font-size="2.1" text-anchor="middle" fill="#444">10</text>
<path d="M435.36 350.37L449.34 350.37L451.88 349.74L454.42 348.47L456.33 346.56L457.98 344.02L459.25 338.93L460.14 331.31L461.03 321.14L462.05 310.97L462.81 302.07L463.58 295.71L464.59 293.81L465.61 293.17L466.25 294.44L466.88 298.25L467.39 305.88L467.90 313.51L468.66 317.32L469.42 319.86L470.31 326.22L471.58 330.03L472.86 332.58L473.75 335.12L474.76 340.20L476.03 345.29L477.94 348.47L479.85 349.74L482.39 350.37L482.39 350.30L435.36 350.30Z" fill="#e3e3e3" stroke="none"/>
<path d="M435.36 350.37L449.34 350.37L451.88 349.74L454.42 348.47L456.33 346.56L457.98 344.02L459.25 338.93L460.14 331.31L461.03 321.14L462.05 310.97L462.81 302.07L463.58 295.71L464.59 293.81L465.61 293.17L466.25 294.44L466.88 298.25L467.39 305.88L467.90 313.51L468.66 317.32L469.42 319.86L470.31 326.22L471.58 330.03L472.86 332.58L473.75 335.12L474.76 340.20L476.03 345.29L477.94 348.47L479.85 349.74L482.39 350.37" fill="none" stroke="#222" stroke-width="0.85" stroke-linejoin="round"/>
<path d="M435.36 289.99L436.37 299.53L437.26 309.69L438.53 321.14L439.81 328.76L441.08 335.12L442.73 341.47L444.25 346.56L446.16 349.10L448.07 350.37L482.39 350.00" fill="none" stroke="#f06a6a" stroke-width="0.85" stroke-linejoin="round"/>
<line x1="445.14" y1="315.03" x2="497.64" y2="315.03" stroke="#5e5e5e" stroke-width="0.8" />
<line x1="445.14" y1="313.83" x2="445.14" y2="316.23" stroke="#555" stroke-width="0.7" />
<rect x="435.20" y="287.80" width="63.40" height="62.50" fill="none" stroke="#888" stroke-width="0.8" />
<text transform="translate(556.20,273.40) scale(1,1.045)" font-size="10" text-anchor="middle" fill="#111" stroke="#111" stroke-width="0.15" >CD90</text>
<text transform="translate(556.20,285.80) scale(1,1.045)" font-size="10" text-anchor="middle" fill="#111" stroke="#111" stroke-width="0.15" >99.8±0.1%</text>
<text transform="translate(517.30,319.05) rotate(-90) scale(1,1.045)" font-size="5.9" text-anchor="middle" fill="#111"  >% of Max</text>
<line x1="522.80" y1="349.80" x2="524.10" y2="349.80" stroke="#777" stroke-width="0.5" />
<text x="522.50" y="350.60" font-size="2.1" text-anchor="end" fill="#444">0</text>
<line x1="522.80" y1="338.00" x2="524.10" y2="338.00" stroke="#777" stroke-width="0.5" />
<text x="522.50" y="338.80" font-size="2.1" text-anchor="end" fill="#444">20</text>
<line x1="522.80" y1="326.20" x2="524.10" y2="326.20" stroke="#777" stroke-width="0.5" />
<text x="522.50" y="327.00" font-size="2.1" text-anchor="end" fill="#444">40</text>
<line x1="522.80" y1="314.40" x2="524.10" y2="314.40" stroke="#777" stroke-width="0.5" />
<text x="522.50" y="315.20" font-size="2.1" text-anchor="end" fill="#444">60</text>
<line x1="522.80" y1="302.60" x2="524.10" y2="302.60" stroke="#777" stroke-width="0.5" />
<text x="522.50" y="303.40" font-size="2.1" text-anchor="end" fill="#444">80</text>
<line x1="522.80" y1="290.80" x2="524.10" y2="290.80" stroke="#777" stroke-width="0.5" />
<text x="522.50" y="291.60" font-size="2.1" text-anchor="end" fill="#444">100</text>
<line x1="525.90" y1="350.30" x2="525.90" y2="351.60" stroke="#777" stroke-width="0.5" />
<text x="525.90" y="354.20" font-size="2.1" text-anchor="middle" fill="#444">10</text>
<line x1="541.25" y1="350.30" x2="541.25" y2="351.60" stroke="#777" stroke-width="0.5" />
<text x="541.25" y="354.20" font-size="2.1" text-anchor="middle" fill="#444">10</text>
<line x1="556.60" y1="350.30" x2="556.60" y2="351.60" stroke="#777" stroke-width="0.5" />
<text x="556.60" y="354.20" font-size="2.1" text-anchor="middle" fill="#444">10</text>
<line x1="571.95" y1="350.30" x2="571.95" y2="351.60" stroke="#777" stroke-width="0.5" />
<text x="571.95" y="354.20" font-size="2.1" text-anchor="middle" fill="#444">10</text>
<line x1="587.30" y1="350.30" x2="587.30" y2="351.60" stroke="#777" stroke-width="0.5" />
<text x="587.30" y="354.20" font-size="2.1" text-anchor="middle" fill="#444">10</text>
<path d="M524.36 350.37L529.44 350.12L533.25 349.10L535.80 347.19L538.34 344.02L540.88 340.84L543.42 337.03L545.33 333.85L547.24 330.03L548.51 324.95L549.78 318.59L550.42 312.24L551.31 307.15L552.32 303.34L553.34 299.53L554.23 296.98L554.86 296.35L555.50 297.62L556.14 300.80L556.77 303.34L557.66 307.15L558.68 307.15L559.95 310.33L560.84 316.05L561.86 318.59L563.13 323.68L564.02 328.76L565.03 333.85L566.31 337.66L568.21 341.47L570.12 345.29L572.03 347.83L574.57 349.74L577.75 350.37L577.75 350.30L524.36 350.30Z" fill="#e3e3e3" stroke="none"/>
<path d="M524.36 350.37L529.44 350.12L533.25 349.10L535.80 347.19L538.34 344.02L540.88 340.84L543.42 337.03L545.33 333.85L547.24 330.03L548.51 324.95L549.78 318.59L550.42 312.24L551.31 307.15L552.32 303.34L553.34 299.53L554.23 296.98L554.86 296.35L555.50 297.62L556.14 300.80L556.77 303.34L557.66 307.15L558.68 307.15L559.95 310.33L560.84 316.05L561.86 318.59L563.13 323.68L564.02 328.76L565.03 333.85L566.31 337.66L568.21 341.47L570.12 345.29L572.03 347.83L574.57 349.74L577.75 350.37" fill="none" stroke="#222" stroke-width="0.85" stroke-linejoin="round"/>
<path d="M524.36 289.99L524.61 310.97L525.37 308.42L526.01 299.53L526.64 295.71L527.28 296.98L527.92 314.78L528.55 331.31L529.19 340.20L530.08 345.92L531.35 348.47L533.25 349.74L535.80 350.37L577.75 350.00" fill="none" stroke="#f06a6a" stroke-width="0.85" stroke-linejoin="round"/>
<line x1="535.42" y1="315.03" x2="586.64" y2="315.03" stroke="#5e5e5e" stroke-width="0.8" />
<line x1="535.42" y1="313.83" x2="535.42" y2="316.23" stroke="#555" stroke-width="0.7" />
<rect x="524.10" y="287.80" width="63.40" height="62.50" fill="none" stroke="#888" stroke-width="0.8" />
<text transform="translate(644.30,273.40) scale(1,1.045)" font-size="10" text-anchor="middle" fill="#111" stroke="#111" stroke-width="0.15" >CD105</text>
<text transform="translate(644.30,285.80) scale(1,1.045)" font-size="10" text-anchor="middle" fill="#111" stroke="#111" stroke-width="0.15" >94.3±4.2%</text>
<text transform="translate(606.10,319.05) rotate(-90) scale(1,1.045)" font-size="5.9" text-anchor="middle" fill="#111"  >% of Max</text>
<line x1="611.60" y1="349.80" x2="612.90" y2="349.80" stroke="#777" stroke-width="0.5" />
<text x="611.30" y="350.60" font-size="2.1" text-anchor="end" fill="#444">0</text>
<line x1="611.60" y1="338.00" x2="612.90" y2="338.00" stroke="#777" stroke-width="0.5" />
<text x="611.30" y="338.80" font-size="2.1" text-anchor="end" fill="#444">20</text>
<line x1="611.60" y1="326.20" x2="612.90" y2="326.20" stroke="#777" stroke-width="0.5" />
<text x="611.30" y="327.00" font-size="2.1" text-anchor="end" fill="#444">40</text>
<line x1="611.60" y1="314.40" x2="612.90" y2="314.40" stroke="#777" stroke-width="0.5" />
<text x="611.30" y="315.20" font-size="2.1" text-anchor="end" fill="#444">60</text>
<line x1="611.60" y1="302.60" x2="612.90" y2="302.60" stroke="#777" stroke-width="0.5" />
<text x="611.30" y="303.40" font-size="2.1" text-anchor="end" fill="#444">80</text>
<line x1="611.60" y1="290.80" x2="612.90" y2="290.80" stroke="#777" stroke-width="0.5" />
<text x="611.30" y="291.60" font-size="2.1" text-anchor="end" fill="#444">100</text>
<line x1="614.70" y1="350.30" x2="614.70" y2="351.60" stroke="#777" stroke-width="0.5" />
<text x="614.70" y="354.20" font-size="2.1" text-anchor="middle" fill="#444">10</text>
<line x1="630.05" y1="350.30" x2="630.05" y2="351.60" stroke="#777" stroke-width="0.5" />
<text x="630.05" y="354.20" font-size="2.1" text-anchor="middle" fill="#444">10</text>
<line x1="645.40" y1="350.30" x2="645.40" y2="351.60" stroke="#777" stroke-width="0.5" />
<text x="645.40" y="354.20" font-size="2.1" text-anchor="middle" fill="#444">10</text>
<line x1="660.75" y1="350.30" x2="660.75" y2="351.60" stroke="#777" stroke-width="0.5" />
<text x="660.75" y="354.20" font-size="2.1" text-anchor="middle" fill="#444">10</text>
<line x1="676.10" y1="350.30" x2="676.10" y2="351.60" stroke="#777" stroke-width="0.5" />
<text x="676.10" y="354.20" font-size="2.1" text-anchor="middle" fill="#444">10</text>
<path d="M613.36 350.37L617.17 350.12L619.71 349.10L621.62 347.83L623.27 345.29L624.54 341.47L625.81 336.39L627.34 328.76L628.61 319.86L629.63 313.51L630.52 307.15L631.41 302.07L632.17 298.25L632.68 296.35L633.31 298.25L633.95 302.07L634.97 308.42L635.98 313.51L637.25 317.32L638.53 323.68L639.54 331.31L640.69 338.93L641.96 345.29L643.23 348.47L645.14 350.12L650.22 350.37L650.22 350.30L613.36 350.30Z" fill="#e3e3e3" stroke="none"/>
<path d="M613.36 350.37L617.17 350.12L619.71 349.10L621.62 347.83L623.27 345.29L624.54 341.47L625.81 336.39L627.34 328.76L628.61 319.86L629.63 313.51L630.52 307.15L631.41 302.07L632.17 298.25L632.68 296.35L633.31 298.25L633.95 302.07L634.97 308.42L635.98 313.51L637.25 317.32L638.53 323.68L639.54 331.31L640.69 338.93L641.96 345.29L643.23 348.47L645.14 350.12L650.22 350.37" fill="none" stroke="#222" stroke-width="0.85" stroke-linejoin="round"/>
<path d="M613.36 289.99L613.61 310.97L614.25 308.42L614.88 299.53L615.52 295.08L616.15 295.71L616.79 308.42L617.55 321.14L618.44 333.85L619.71 338.93L620.98 344.02L622.25 347.19L624.16 349.74L627.34 350.37L650.22 350.00" fill="none" stroke="#f06a6a" stroke-width="0.85" stroke-linejoin="round"/>
<line x1="622.89" y1="314.78" x2="675.64" y2="314.78" stroke="#5e5e5e" stroke-width="0.8" />
<line x1="622.89" y1="313.58" x2="622.89" y2="315.98" stroke="#555" stroke-width="0.7" />
<rect x="612.90" y="287.80" width="63.40" height="62.50" fill="none" stroke="#888" stroke-width="0.8" />
<text transform="translate(4.00,202.60) scale(1,1.045)" font-size="18" text-anchor="start" fill="#111" stroke="#111" stroke-width="0.15" >C</text>
<line x1="65.10" y1="191.80" x2="65.10" y2="341.30" stroke="#5a5a5a" stroke-width="1.7" />
<line x1="63.00" y1="191.80" x2="266.80" y2="191.80" stroke="#5a5a5a" stroke-width="1.5" />
<line x1="266.80" y1="191.80" x2="266.80" y2="341.30" stroke="#5a5a5a" stroke-width="1.5" />
<line x1="64.20" y1="341.30" x2="267.50" y2="341.30" stroke="#5a5a5a" stroke-width="1.7" />
<line x1="62.90" y1="316.40" x2="65.00" y2="316.40" stroke="#5a5a5a" stroke-width="1" />
<text transform="translate(58.20,319.90) scale(1,1.045)" font-size="10" text-anchor="end" fill="#111" stroke="#111" stroke-width="0.15" >1</text>
<line x1="62.90" y1="291.50" x2="65.00" y2="291.50" stroke="#5a5a5a" stroke-width="1" />
<text transform="translate(58.20,295.00) scale(1,1.045)" font-size="10" text-anchor="end" fill="#111" stroke="#111" stroke-width="0.15" >2</text>
<line x1="62.90" y1="266.60" x2="65.00" y2="266.60" stroke="#5a5a5a" stroke-width="1" />
<text transform="translate(58.20,270.10) scale(1,1.045)" font-size="10" text-anchor="end" fill="#111" stroke="#111" stroke-width="0.15" >3</text>
<line x1="62.90" y1="241.70" x2="65.00" y2="241.70" stroke="#5a5a5a" stroke-width="1" />
<text transform="translate(58.20,245.20) scale(1,1.045)" font-size="10" text-anchor="end" fill="#111" stroke="#111" stroke-width="0.15" >4</text>
<line x1="62.90" y1="216.80" x2="65.00" y2="216.80" stroke="#5a5a5a" stroke-width="1" />
<text transform="translate(58.20,220.30) scale(1,1.045)" font-size="10" text-anchor="end" fill="#111" stroke="#111" stroke-width="0.15" >5</text>
<line x1="65.30" y1="341.30" x2="65.30" y2="343.80" stroke="#5a5a5a" stroke-width="1" />
<line x1="85.45" y1="341.30" x2="85.45" y2="343.80" stroke="#5a5a5a" stroke-width="1" />
<text transform="translate(85.45,357.90) scale(1,1.045)" font-size="10" text-anchor="middle" fill="#111" stroke="#111" stroke-width="0.15" >1</text>
<line x1="105.60" y1="341.30" x2="105.60" y2="343.80" stroke="#5a5a5a" stroke-width="1" />
<text transform="translate(105.60,357.90) scale(1,1.045)" font-size="10" text-anchor="middle" fill="#111" stroke="#111" stroke-width="0.15" >2</text>
<line x1="125.75" y1="341.30" x2="125.75" y2="343.80" stroke="#5a5a5a" stroke-width="1" />
<text transform="translate(125.75,357.90) scale(1,1.045)" font-size="10" text-anchor="middle" fill="#111" stroke="#111" stroke-width="0.15" >3</text>
<line x1="145.90" y1="341.30" x2="145.90" y2="343.80" stroke="#5a5a5a" stroke-width="1" />
<text transform="translate(145.90,357.90) scale(1,1.045)" font-size="10" text-anchor="middle" fill="#111" stroke="#111" stroke-width="0.15" >4</text>
<line x1="166.05" y1="341.30" x2="166.05" y2="343.80" stroke="#5a5a5a" stroke-width="1" />
<text transform="translate(166.05,357.90) scale(1,1.045)" font-size="10" text-anchor="middle" fill="#111" stroke="#111" stroke-width="0.15" >5</text>
<line x1="186.20" y1="341.30" x2="186.20" y2="343.80" stroke="#5a5a5a" stroke-width="1" />
<text transform="translate(186.20,357.90) scale(1,1.045)" font-size="10" text-anchor="middle" fill="#111" stroke="#111" stroke-width="0.15" >6</text>
<line x1="206.35" y1="341.30" x2="206.35" y2="343.80" stroke="#5a5a5a" stroke-width="1" />
<text transform="translate(206.35,357.90) scale(1,1.045)" font-size="10" text-anchor="middle" fill="#111" stroke="#111" stroke-width="0.15" >7</text>
<line x1="226.50" y1="341.30" x2="226.50" y2="343.80" stroke="#5a5a5a" stroke-width="1" />
<text transform="translate(226.50,357.90) scale(1,1.045)" font-size="10" text-anchor="middle" fill="#111" stroke="#111" stroke-width="0.15" >8</text>
<line x1="246.65" y1="341.30" x2="246.65" y2="343.80" stroke="#5a5a5a" stroke-width="1" />
<text transform="translate(246.65,357.90) scale(1,1.045)" font-size="10" text-anchor="middle" fill="#111" stroke="#111" stroke-width="0.15" >9</text>
<line x1="266.80" y1="341.30" x2="266.80" y2="343.80" stroke="#5a5a5a" stroke-width="1" />
<text transform="translate(168.40,374.20) scale(1,1.045)" font-size="11" text-anchor="middle" fill="#111" stroke="#111" stroke-width="0.15" >Days</text>
<text transform="translate(45.20,265.40) rotate(-90) scale(1,1.045)" font-size="11.6" text-anchor="middle" fill="#111" stroke="#111" stroke-width="0.15" >Cell numbers (X10<tspan font-size="7" dy="-4">5</tspan><tspan dy="4">)</tspan></text>
<circle cx="83.7" cy="207.4" r="5.1" fill="#a3a3a3" stroke="#222" stroke-width="1"/>
<path d="M78.2 227.7L84.05 217.3L89.9 227.7Z" fill="#000"/>
<rect x="78.60" y="233.60" width="10.60" height="9.60" fill="#fff" stroke="#333" stroke-width="1.1" />
<text transform="translate(96.80,210.60) scale(1,1.045)" font-size="10" text-anchor="start" fill="#111" stroke="#111" stroke-width="0.15" >WT-MSC</text>
<text transform="translate(96.80,226.00) scale(1,1.045)" font-size="10" text-anchor="start" fill="#111" stroke="#111" stroke-width="0.15" >MD1-MSC</text>
<text transform="translate(96.80,241.70) scale(1,1.045)" font-size="10" text-anchor="start" fill="#111" stroke="#111" stroke-width="0.15" >MD2-MSC</text>
<path d="M85.45 336.32L105.60 333.83L125.75 327.61L145.90 315.16L166.05 299.97L186.20 279.05L206.35 258.38L226.50 236.97L246.65 231.99" fill="none" stroke="#111" stroke-width="1.1"/>
<line x1="166.05" y1="296.48" x2="166.05" y2="303.45" stroke="#111" stroke-width="1" />
<line x1="163.75" y1="296.48" x2="168.35" y2="296.48" stroke="#111" stroke-width="1.1" />
<line x1="163.75" y1="303.45" x2="168.35" y2="303.45" stroke="#111" stroke-width="1.1" />
<line x1="186.20" y1="274.82" x2="186.20" y2="283.28" stroke="#111" stroke-width="1" />
<line x1="183.90" y1="274.82" x2="188.50" y2="274.82" stroke="#111" stroke-width="1.1" />
<line x1="183.90" y1="283.28" x2="188.50" y2="283.28" stroke="#111" stroke-width="1.1" />
<line x1="206.35" y1="250.91" x2="206.35" y2="265.85" stroke="#111" stroke-width="1" />
<line x1="204.05" y1="250.91" x2="208.65" y2="250.91" stroke="#111" stroke-width="1.1" />
<line x1="204.05" y1="265.85" x2="208.65" y2="265.85" stroke="#111" stroke-width="1.1" />
<line x1="226.50" y1="231.99" x2="226.50" y2="241.95" stroke="#111" stroke-width="1" />
<line x1="224.20" y1="231.99" x2="228.80" y2="231.99" stroke="#111" stroke-width="1.1" />
<line x1="224.20" y1="241.95" x2="228.80" y2="241.95" stroke="#111" stroke-width="1.1" />
<line x1="246.65" y1="227.51" x2="246.65" y2="236.47" stroke="#111" stroke-width="1" />
<line x1="244.35" y1="227.51" x2="248.95" y2="227.51" stroke="#111" stroke-width="1.1" />
<line x1="244.35" y1="236.47" x2="248.95" y2="236.47" stroke="#111" stroke-width="1.1" />
<path d="M85.45 336.32L105.60 331.84L125.75 320.38L145.90 309.43L166.05 285.03L186.20 263.11L206.35 256.64L226.50 244.69L246.65 240.95" fill="none" stroke="#111" stroke-width="1.1"/>
<line x1="166.05" y1="281.79" x2="166.05" y2="288.26" stroke="#111" stroke-width="1" />
<line x1="163.75" y1="281.79" x2="168.35" y2="281.79" stroke="#111" stroke-width="1.1" />
<line x1="163.75" y1="288.26" x2="168.35" y2="288.26" stroke="#111" stroke-width="1.1" />
<line x1="186.20" y1="258.88" x2="186.20" y2="267.35" stroke="#111" stroke-width="1" />
<line x1="183.90" y1="258.88" x2="188.50" y2="258.88" stroke="#111" stroke-width="1.1" />
<line x1="183.90" y1="267.35" x2="188.50" y2="267.35" stroke="#111" stroke-width="1.1" />
<line x1="206.35" y1="249.17" x2="206.35" y2="264.11" stroke="#111" stroke-width="1" />
<line x1="204.05" y1="249.17" x2="208.65" y2="249.17" stroke="#111" stroke-width="1.1" />
<line x1="204.05" y1="264.11" x2="208.65" y2="264.11" stroke="#111" stroke-width="1.1" />
<line x1="226.50" y1="238.96" x2="226.50" y2="250.42" stroke="#111" stroke-width="1" />
<line x1="224.20" y1="238.96" x2="228.80" y2="238.96" stroke="#111" stroke-width="1.1" />
<line x1="224.20" y1="250.42" x2="228.80" y2="250.42" stroke="#111" stroke-width="1.1" />
<line x1="246.65" y1="235.48" x2="246.65" y2="246.43" stroke="#111" stroke-width="1" />
<line x1="244.35" y1="235.48" x2="248.95" y2="235.48" stroke="#111" stroke-width="1.1" />
<line x1="244.35" y1="246.43" x2="248.95" y2="246.43" stroke="#111" stroke-width="1.1" />
<path d="M85.45 336.32L105.60 334.58L125.75 328.85L145.90 315.90L166.05 291.75L186.20 269.34L206.35 240.70L226.50 231.99L246.65 228.01" fill="none" stroke="#111" stroke-width="1.1"/>
<line x1="206.35" y1="233.98" x2="206.35" y2="247.43" stroke="#111" stroke-width="1" />
<line x1="204.05" y1="233.98" x2="208.65" y2="233.98" stroke="#111" stroke-width="1.1" />
<line x1="204.05" y1="247.43" x2="208.65" y2="247.43" stroke="#111" stroke-width="1.1" />
<line x1="226.50" y1="224.52" x2="226.50" y2="239.46" stroke="#111" stroke-width="1" />
<line x1="224.20" y1="224.52" x2="228.80" y2="224.52" stroke="#111" stroke-width="1.1" />
<line x1="224.20" y1="239.46" x2="228.80" y2="239.46" stroke="#111" stroke-width="1.1" />
<line x1="246.65" y1="216.80" x2="246.65" y2="239.21" stroke="#111" stroke-width="1" />
<line x1="244.35" y1="216.80" x2="248.95" y2="216.80" stroke="#111" stroke-width="1.1" />
<line x1="244.35" y1="239.21" x2="248.95" y2="239.21" stroke="#111" stroke-width="1.1" />
<circle cx="85.45" cy="336.32" r="2.4" fill="#fff" stroke="#111" stroke-width="1"/>
<circle cx="105.60" cy="333.83" r="2.4" fill="#fff" stroke="#111" stroke-width="1"/>
<circle cx="125.75" cy="327.61" r="2.4" fill="#fff" stroke="#111" stroke-width="1"/>
<circle cx="145.90" cy="315.16" r="2.4" fill="#fff" stroke="#111" stroke-width="1"/>
<circle cx="166.05" cy="299.97" r="2.4" fill="#fff" stroke="#111" stroke-width="1"/>
<circle cx="186.20" cy="279.05" r="2.4" fill="#fff" stroke="#111" stroke-width="1"/>
<circle cx="206.35" cy="258.38" r="2.4" fill="#fff" stroke="#111" stroke-width="1"/>
<circle cx="226.50" cy="236.97" r="2.4" fill="#fff" stroke="#111" stroke-width="1"/>
<circle cx="246.65" cy="231.99" r="2.4" fill="#fff" stroke="#111" stroke-width="1"/>
<path d="M82.45 338.72L85.45 333.52L88.45 338.72Z" fill="#000"/>
<path d="M102.60 334.24L105.60 329.04L108.60 334.24Z" fill="#000"/>
<path d="M122.75 322.78L125.75 317.58L128.75 322.78Z" fill="#000"/>
<path d="M142.90 311.83L145.90 306.63L148.90 311.83Z" fill="#000"/>
<path d="M163.05 287.43L166.05 282.23L169.05 287.43Z" fill="#000"/>
<path d="M183.20 265.51L186.20 260.31L189.20 265.51Z" fill="#000"/>
<path d="M203.35 259.04L206.35 253.84L209.35 259.04Z" fill="#000"/>
<path d="M223.50 247.09L226.50 241.89L229.50 247.09Z" fill="#000"/>
<path d="M243.65 243.35L246.65 238.15L249.65 243.35Z" fill="#000"/>
<rect x="83.05" y="333.92" width="4.80" height="4.80" fill="#fff" stroke="#111" stroke-width="1" />
<rect x="103.20" y="332.18" width="4.80" height="4.80" fill="#fff" stroke="#111" stroke-width="1" />
<rect x="123.35" y="326.45" width="4.80" height="4.80" fill="#fff" stroke="#111" stroke-width="1" />
<rect x="143.50" y="313.50" width="4.80" height="4.80" fill="#fff" stroke="#111" stroke-width="1" />
<rect x="163.65" y="289.35" width="4.80" height="4.80" fill="#fff" stroke="#111" stroke-width="1" />
<rect x="183.80" y="266.94" width="4.80" height="4.80" fill="#fff" stroke="#111" stroke-width="1" />
<rect x="203.95" y="238.30" width="4.80" height="4.80" fill="#fff" stroke="#111" stroke-width="1" />
<rect x="224.10" y="229.59" width="4.80" height="4.80" fill="#fff" stroke="#111" stroke-width="1" />
<rect x="244.25" y="225.61" width="4.80" height="4.80" fill="#fff" stroke="#111" stroke-width="1" />
<text transform="translate(4.30,411.30) scale(1,1.045)" font-size="18" text-anchor="start" fill="#111" stroke="#111" stroke-width="0.15" >D</text>
<line x1="52.50" y1="425.60" x2="52.50" y2="555.00" stroke="#333" stroke-width="1.3" />
<line x1="51.80" y1="555.00" x2="185.00" y2="555.00" stroke="#333" stroke-width="1.3" />
<line x1="50.30" y1="555.00" x2="52.50" y2="555.00" stroke="#333" stroke-width="1" />
<text transform="translate(47.60,558.20) scale(1,1.045)" font-size="9.3" text-anchor="end" fill="#111" stroke="#111" stroke-width="0.15" >0</text>
<line x1="50.30" y1="512.35" x2="52.50" y2="512.35" stroke="#333" stroke-width="1" />
<text transform="translate(47.60,515.55) scale(1,1.045)" font-size="9.3" text-anchor="end" fill="#111" stroke="#111" stroke-width="0.15" >50</text>
<line x1="50.30" y1="469.70" x2="52.50" y2="469.70" stroke="#333" stroke-width="1" />
<text transform="translate(47.60,472.90) scale(1,1.045)" font-size="9.3" text-anchor="end" fill="#111" stroke="#111" stroke-width="0.15" >100</text>
<line x1="50.30" y1="427.05" x2="52.50" y2="427.05" stroke="#333" stroke-width="1" />
<rect x="59.60" y="469.70" width="29.60" height="85.30" fill="#fff" stroke="#333" stroke-width="1.3" />
<line x1="74.40" y1="555.00" x2="74.40" y2="557.50" stroke="#333" stroke-width="1" />
<rect x="103.40" y="472.09" width="29.60" height="82.91" fill="#d9d9d9" stroke="#333" stroke-width="1.3" />
<line x1="118.20" y1="555.00" x2="118.20" y2="557.50" stroke="#333" stroke-width="1" />
<rect x="147.40" y="471.41" width="29.60" height="83.59" fill="#7a7a7a" stroke="#333" stroke-width="1.3" />
<line x1="162.20" y1="555.00" x2="162.20" y2="557.50" stroke="#333" stroke-width="1" />
<line x1="118.50" y1="463.60" x2="118.50" y2="472.09" stroke="#333" stroke-width="1.2" />
<line x1="110.90" y1="463.60" x2="126.10" y2="463.60" stroke="#333" stroke-width="1.3" />
<line x1="162.20" y1="468.40" x2="162.20" y2="471.41" stroke="#333" stroke-width="1.2" />
<line x1="155.30" y1="468.40" x2="169.10" y2="468.40" stroke="#333" stroke-width="1.3" />
<text transform="translate(21.20,494.40) rotate(-90) scale(1,1.045)" font-size="11.3" text-anchor="middle" fill="#111" stroke="#111" stroke-width="0.15" >Relative viability (%)</text>
<text transform="translate(74.40,573.90) scale(1,1.045)" font-size="11" text-anchor="middle" fill="#111" stroke="#111" stroke-width="0.15" >WT</text>
<text transform="translate(74.40,588.00) scale(1,1.045)" font-size="11" text-anchor="middle" fill="#111" stroke="#111" stroke-width="0.15" >-MSC</text>
<text transform="translate(118.50,573.90) scale(1,1.045)" font-size="11" text-anchor="middle" fill="#111" stroke="#111" stroke-width="0.15" >MD1</text>
<text transform="translate(118.50,588.00) scale(1,1.045)" font-size="11" text-anchor="middle" fill="#111" stroke="#111" stroke-width="0.15" >-MSC</text>
<text transform="translate(162.60,573.90) scale(1,1.045)" font-size="11" text-anchor="middle" fill="#111" stroke="#111" stroke-width="0.15" >MD2</text>
<text transform="translate(162.60,588.00) scale(1,1.045)" font-size="11" text-anchor="middle" fill="#111" stroke="#111" stroke-width="0.15" >-MSC</text>
<text transform="translate(195.80,411.60) scale(1,1.045)" font-size="18" text-anchor="start" fill="#111" stroke="#111" stroke-width="0.15" >E</text>
<line x1="239.50" y1="425.00" x2="239.50" y2="554.00" stroke="#333" stroke-width="1.3" />
<line x1="238.90" y1="554.00" x2="369.00" y2="554.00" stroke="#333" stroke-width="1.3" />
<line x1="237.20" y1="554.00" x2="239.50" y2="554.00" stroke="#333" stroke-width="1" />
<text transform="translate(233.60,557.30) scale(1,1.045)" font-size="9.5" text-anchor="end" fill="#111" stroke="#111" stroke-width="0.15" >0</text>
<line x1="237.20" y1="511.30" x2="239.50" y2="511.30" stroke="#333" stroke-width="1" />
<text transform="translate(233.60,514.60) scale(1,1.045)" font-size="9.5" text-anchor="end" fill="#111" stroke="#111" stroke-width="0.15" >5</text>
<line x1="237.20" y1="468.60" x2="239.50" y2="468.60" stroke="#333" stroke-width="1" />
<text transform="translate(233.60,471.90) scale(1,1.045)" font-size="9.5" text-anchor="end" fill="#111" stroke="#111" stroke-width="0.15" >10</text>
<line x1="237.20" y1="425.90" x2="239.50" y2="425.90" stroke="#333" stroke-width="1" />
<rect x="246.70" y="489.60" width="30.40" height="64.40" fill="#d8d8d8" stroke="#333" stroke-width="1.2" />
<rect x="246.70" y="500.00" width="30.40" height="54.00" fill="#fff" stroke="#333" stroke-width="1.2" />
<line x1="261.90" y1="496.40" x2="261.90" y2="500.00" stroke="#333" stroke-width="1.1" />
<line x1="254.60" y1="496.40" x2="269.20" y2="496.40" stroke="#333" stroke-width="1.2" />
<line x1="261.90" y1="489.30" x2="261.90" y2="489.60" stroke="#333" stroke-width="1.1" />
<line x1="254.60" y1="489.30" x2="269.20" y2="489.30" stroke="#333" stroke-width="1.2" />
<line x1="261.90" y1="554.00" x2="261.90" y2="556.50" stroke="#333" stroke-width="1" />
<rect x="292.20" y="490.40" width="30.40" height="63.60" fill="#d8d8d8" stroke="#333" stroke-width="1.2" />
<rect x="292.20" y="500.80" width="30.40" height="53.20" fill="#fff" stroke="#333" stroke-width="1.2" />
<line x1="307.40" y1="495.60" x2="307.40" y2="500.80" stroke="#333" stroke-width="1.1" />
<line x1="300.10" y1="495.60" x2="314.70" y2="495.60" stroke="#333" stroke-width="1.2" />
<line x1="307.40" y1="490.10" x2="307.40" y2="490.40" stroke="#333" stroke-width="1.1" />
<line x1="300.10" y1="490.10" x2="314.70" y2="490.10" stroke="#333" stroke-width="1.2" />
<line x1="307.40" y1="554.00" x2="307.40" y2="556.50" stroke="#333" stroke-width="1" />
<rect x="337.40" y="491.50" width="30.40" height="62.50" fill="#d8d8d8" stroke="#333" stroke-width="1.2" />
<rect x="337.40" y="502.90" width="30.40" height="51.10" fill="#fff" stroke="#333" stroke-width="1.2" />
<line x1="352.60" y1="498.90" x2="352.60" y2="502.90" stroke="#333" stroke-width="1.1" />
<line x1="345.30" y1="498.90" x2="359.90" y2="498.90" stroke="#333" stroke-width="1.2" />
<line x1="352.60" y1="488.90" x2="352.60" y2="491.50" stroke="#333" stroke-width="1.1" />
<line x1="345.30" y1="488.90" x2="359.90" y2="488.90" stroke="#333" stroke-width="1.2" />
<line x1="352.60" y1="554.00" x2="352.60" y2="556.50" stroke="#333" stroke-width="1" />
<rect x="291.10" y="426.70" width="14.30" height="12.60" fill="#fff" stroke="#333" stroke-width="1.1" rx="0.8"/>
<rect x="291.10" y="444.70" width="14.30" height="12.20" fill="#d8d8d8" stroke="#333" stroke-width="1.1" rx="0.8"/>
<text transform="translate(311.60,436.00) scale(1,1.045)" font-size="10" text-anchor="start" fill="#111" stroke="#111" stroke-width="0.15" textLength="62" lengthAdjust="spacingAndGlyphs">Annexin+/PI+</text>
<text transform="translate(311.60,453.80) scale(1,1.045)" font-size="10" text-anchor="start" fill="#111" stroke="#111" stroke-width="0.15" >Annexin+/PI-</text>
<text transform="translate(214.90,486.40) rotate(-90) scale(1,1.045)" font-size="11.5" text-anchor="middle" fill="#111" stroke="#111" stroke-width="0.15" >Apoptosis (%)</text>
<text transform="translate(263.30,574.90) scale(1,1.045)" font-size="11.2" text-anchor="middle" fill="#111" stroke="#111" stroke-width="0.15" >WT</text>
<text transform="translate(262.80,588.90) scale(1,1.045)" font-size="11.2" text-anchor="middle" fill="#111" stroke="#111" stroke-width="0.15" >-MSC</text>
<text transform="translate(307.60,574.90) scale(1,1.045)" font-size="11.2" text-anchor="middle" fill="#111" stroke="#111" stroke-width="0.15" >MD1</text>
<text transform="translate(307.10,588.90) scale(1,1.045)" font-size="11.2" text-anchor="middle" fill="#111" stroke="#111" stroke-width="0.15" >-MSC</text>
<text transform="translate(352.60,574.90) scale(1,1.045)" font-size="11.2" text-anchor="middle" fill="#111" stroke="#111" stroke-width="0.15" >MD2</text>
<text transform="translate(352.10,588.90) scale(1,1.045)" font-size="11.2" text-anchor="middle" fill="#111" stroke="#111" stroke-width="0.15" >-MSC</text>
<text transform="translate(418.70,411.60) scale(1,1.045)" font-size="18" text-anchor="start" fill="#111" stroke="#111" stroke-width="0.15" >F</text>
<line x1="447.40" y1="451.30" x2="447.40" y2="553.60" stroke="#333" stroke-width="1.3" />
<line x1="446.70" y1="553.60" x2="678.50" y2="553.60" stroke="#333" stroke-width="1.15" />
<line x1="445.00" y1="553.60" x2="447.40" y2="553.60" stroke="#333" stroke-width="1" />
<text transform="translate(442.60,556.90) scale(1,1.045)" font-size="9.5" text-anchor="end" fill="#111" stroke="#111" stroke-width="0.15" >0</text>
<line x1="445.00" y1="533.14" x2="447.40" y2="533.14" stroke="#333" stroke-width="1" />
<text transform="translate(442.60,536.44) scale(1,1.045)" font-size="9.5" text-anchor="end" fill="#111" stroke="#111" stroke-width="0.15" >20</text>
<line x1="445.00" y1="512.68" x2="447.40" y2="512.68" stroke="#333" stroke-width="1" />
<text transform="translate(442.60,515.98) scale(1,1.045)" font-size="9.5" text-anchor="end" fill="#111" stroke="#111" stroke-width="0.15" >40</text>
<line x1="445.00" y1="492.22" x2="447.40" y2="492.22" stroke="#333" stroke-width="1" />
<text transform="translate(442.60,495.52) scale(1,1.045)" font-size="9.5" text-anchor="end" fill="#111" stroke="#111" stroke-width="0.15" >60</text>
<line x1="445.00" y1="471.76" x2="447.40" y2="471.76" stroke="#333" stroke-width="1" />
<text transform="translate(442.60,475.06) scale(1,1.045)" font-size="9.5" text-anchor="end" fill="#111" stroke="#111" stroke-width="0.15" >80</text>
<line x1="445.00" y1="451.30" x2="447.40" y2="451.30" stroke="#333" stroke-width="1" />
<text transform="translate(442.60,454.60) scale(1,1.045)" font-size="9.5" text-anchor="end" fill="#111" stroke="#111" stroke-width="0.15" >100</text>
<line x1="466.73" y1="479.33" x2="466.73" y2="482.30" stroke="#333" stroke-width="1.1" />
<line x1="461.93" y1="479.33" x2="471.53" y2="479.33" stroke="#333" stroke-width="1.2" />
<rect x="457.10" y="482.30" width="19.25" height="71.30" fill="#fff" stroke="#252525" stroke-width="1.2" />
<rect x="476.35" y="544.29" width="19.25" height="9.31" fill="#d7d7d7" stroke="#252525" stroke-width="1.2" />
<line x1="505.23" y1="528.02" x2="505.23" y2="531.09" stroke="#333" stroke-width="1.1" />
<line x1="500.43" y1="528.02" x2="510.03" y2="528.02" stroke="#333" stroke-width="1.2" />
<rect x="495.60" y="531.09" width="19.25" height="22.51" fill="#7e7e7e" stroke="#252525" stroke-width="1.2" />
<line x1="485.98" y1="553.60" x2="485.98" y2="556.10" stroke="#333" stroke-width="1" />
<line x1="543.42" y1="481.38" x2="543.42" y2="482.30" stroke="#333" stroke-width="1.1" />
<line x1="538.62" y1="481.38" x2="548.22" y2="481.38" stroke="#333" stroke-width="1.2" />
<rect x="533.80" y="482.30" width="19.25" height="71.30" fill="#fff" stroke="#252525" stroke-width="1.2" />
<line x1="562.67" y1="539.38" x2="562.67" y2="541.43" stroke="#333" stroke-width="1.1" />
<line x1="557.88" y1="539.38" x2="567.47" y2="539.38" stroke="#333" stroke-width="1.2" />
<rect x="553.05" y="541.43" width="19.25" height="12.17" fill="#d7d7d7" stroke="#252525" stroke-width="1.2" />
<line x1="581.92" y1="534.47" x2="581.92" y2="534.88" stroke="#333" stroke-width="1.1" />
<line x1="577.12" y1="534.47" x2="586.72" y2="534.47" stroke="#333" stroke-width="1.2" />
<rect x="572.30" y="534.88" width="19.25" height="18.72" fill="#7e7e7e" stroke="#252525" stroke-width="1.2" />
<line x1="562.67" y1="553.60" x2="562.67" y2="556.10" stroke="#333" stroke-width="1" />
<line x1="620.23" y1="481.48" x2="620.23" y2="483.63" stroke="#333" stroke-width="1.1" />
<line x1="615.43" y1="481.48" x2="625.02" y2="481.48" stroke="#333" stroke-width="1.2" />
<rect x="610.60" y="483.63" width="19.25" height="69.97" fill="#fff" stroke="#252525" stroke-width="1.2" />
<line x1="639.48" y1="541.63" x2="639.48" y2="543.27" stroke="#333" stroke-width="1.1" />
<line x1="634.68" y1="541.63" x2="644.27" y2="541.63" stroke="#333" stroke-width="1.2" />
<rect x="629.85" y="543.27" width="19.25" height="10.33" fill="#d7d7d7" stroke="#252525" stroke-width="1.2" />
<line x1="658.73" y1="530.48" x2="658.73" y2="530.79" stroke="#333" stroke-width="1.1" />
<line x1="653.93" y1="530.48" x2="663.52" y2="530.48" stroke="#333" stroke-width="1.2" />
<rect x="649.10" y="530.79" width="19.25" height="22.81" fill="#7e7e7e" stroke="#252525" stroke-width="1.2" />
<line x1="639.48" y1="553.60" x2="639.48" y2="556.10" stroke="#333" stroke-width="1" />
<rect x="498.60" y="452.20" width="11.80" height="10.00" fill="#fff" stroke="#333" stroke-width="1.1" rx="0.6"/>
<rect x="538.60" y="452.20" width="11.20" height="10.00" fill="#d8d8d8" stroke="#333" stroke-width="1.1" rx="0.6"/>
<rect x="571.40" y="452.20" width="11.80" height="10.00" fill="#7e7e7e" stroke="#333" stroke-width="1.1" rx="0.6"/>
<text transform="translate(513.90,460.40) scale(1,1.045)" font-size="9.6" text-anchor="start" fill="#111" stroke="#111" stroke-width="0.15" >G1</text>
<text transform="translate(553.90,460.40) scale(1,1.045)" font-size="9.6" text-anchor="start" fill="#111" stroke="#111" stroke-width="0.15" >S</text>
<text transform="translate(586.10,460.40) scale(1,1.045)" font-size="9.6" text-anchor="start" fill="#111" stroke="#111" stroke-width="0.15" >G2/M</text>
<text transform="translate(418.00,498.40) rotate(-90) scale(1,1.045)" font-size="11.5" text-anchor="middle" fill="#111" stroke="#111" stroke-width="0.15" >Percentage of cells</text>
<text transform="translate(487.50,575.30) scale(1,1.045)" font-size="11.3" text-anchor="middle" fill="#111" stroke="#111" stroke-width="0.15" >WT-MSC</text>
<text transform="translate(563.20,575.30) scale(1,1.045)" font-size="11.3" text-anchor="middle" fill="#111" stroke="#111" stroke-width="0.15" >MD1-MSC</text>
<text transform="translate(640.00,575.30) scale(1,1.045)" font-size="11.3" text-anchor="middle" fill="#111" stroke="#111" stroke-width="0.15" >MD2-MSC</text>
</svg>
</body></html>
